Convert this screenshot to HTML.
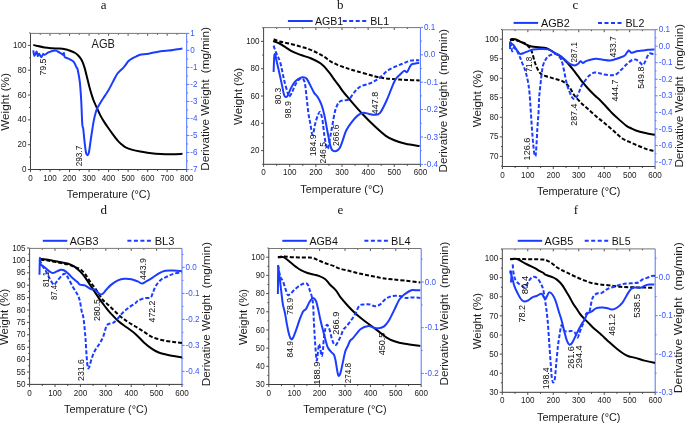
<!DOCTYPE html><html><head><meta charset="utf-8"><style>html,body{margin:0;padding:0;background:#fff;}svg{display:block;will-change:transform;}</style></head><body>
<svg width="685" height="425" viewBox="0 0 685 425">
<rect width="685" height="425" fill="#fff"/>
<line x1="30.5" y1="169.5" x2="30.5" y2="172.1" stroke="#3a3a3a" stroke-width="0.9"/>
<text transform="translate(30.5 180.6) scale(0.86 1)" font-family='"Liberation Sans", sans-serif' font-size="9.4" fill="#222" text-anchor="middle" xml:space="preserve">0</text>
<line x1="40.26" y1="169.5" x2="40.26" y2="171.1" stroke="#3a3a3a" stroke-width="0.9"/>
<line x1="40.26" y1="33.4" x2="40.26" y2="34.8" stroke="#3a3a3a" stroke-width="0.9"/>
<line x1="50.02" y1="169.5" x2="50.02" y2="172.1" stroke="#3a3a3a" stroke-width="0.9"/>
<line x1="50.02" y1="33.4" x2="50.02" y2="35.8" stroke="#3a3a3a" stroke-width="0.9"/>
<text transform="translate(50.02 180.6) scale(0.86 1)" font-family='"Liberation Sans", sans-serif' font-size="9.4" fill="#222" text-anchor="middle" xml:space="preserve">100</text>
<line x1="59.79" y1="169.5" x2="59.79" y2="171.1" stroke="#3a3a3a" stroke-width="0.9"/>
<line x1="59.79" y1="33.4" x2="59.79" y2="34.8" stroke="#3a3a3a" stroke-width="0.9"/>
<line x1="69.55" y1="169.5" x2="69.55" y2="172.1" stroke="#3a3a3a" stroke-width="0.9"/>
<line x1="69.55" y1="33.4" x2="69.55" y2="35.8" stroke="#3a3a3a" stroke-width="0.9"/>
<text transform="translate(69.55 180.6) scale(0.86 1)" font-family='"Liberation Sans", sans-serif' font-size="9.4" fill="#222" text-anchor="middle" xml:space="preserve">200</text>
<line x1="79.31" y1="169.5" x2="79.31" y2="171.1" stroke="#3a3a3a" stroke-width="0.9"/>
<line x1="79.31" y1="33.4" x2="79.31" y2="34.8" stroke="#3a3a3a" stroke-width="0.9"/>
<line x1="89.08" y1="169.5" x2="89.08" y2="172.1" stroke="#3a3a3a" stroke-width="0.9"/>
<line x1="89.08" y1="33.4" x2="89.08" y2="35.8" stroke="#3a3a3a" stroke-width="0.9"/>
<text transform="translate(89.08 180.6) scale(0.86 1)" font-family='"Liberation Sans", sans-serif' font-size="9.4" fill="#222" text-anchor="middle" xml:space="preserve">300</text>
<line x1="98.84" y1="169.5" x2="98.84" y2="171.1" stroke="#3a3a3a" stroke-width="0.9"/>
<line x1="98.84" y1="33.4" x2="98.84" y2="34.8" stroke="#3a3a3a" stroke-width="0.9"/>
<line x1="108.6" y1="169.5" x2="108.6" y2="172.1" stroke="#3a3a3a" stroke-width="0.9"/>
<line x1="108.6" y1="33.4" x2="108.6" y2="35.8" stroke="#3a3a3a" stroke-width="0.9"/>
<text transform="translate(108.6 180.6) scale(0.86 1)" font-family='"Liberation Sans", sans-serif' font-size="9.4" fill="#222" text-anchor="middle" xml:space="preserve">400</text>
<line x1="118.36" y1="169.5" x2="118.36" y2="171.1" stroke="#3a3a3a" stroke-width="0.9"/>
<line x1="118.36" y1="33.4" x2="118.36" y2="34.8" stroke="#3a3a3a" stroke-width="0.9"/>
<line x1="128.12" y1="169.5" x2="128.12" y2="172.1" stroke="#3a3a3a" stroke-width="0.9"/>
<line x1="128.12" y1="33.4" x2="128.12" y2="35.8" stroke="#3a3a3a" stroke-width="0.9"/>
<text transform="translate(128.12 180.6) scale(0.86 1)" font-family='"Liberation Sans", sans-serif' font-size="9.4" fill="#222" text-anchor="middle" xml:space="preserve">500</text>
<line x1="137.89" y1="169.5" x2="137.89" y2="171.1" stroke="#3a3a3a" stroke-width="0.9"/>
<line x1="137.89" y1="33.4" x2="137.89" y2="34.8" stroke="#3a3a3a" stroke-width="0.9"/>
<line x1="147.65" y1="169.5" x2="147.65" y2="172.1" stroke="#3a3a3a" stroke-width="0.9"/>
<line x1="147.65" y1="33.4" x2="147.65" y2="35.8" stroke="#3a3a3a" stroke-width="0.9"/>
<text transform="translate(147.65 180.6) scale(0.86 1)" font-family='"Liberation Sans", sans-serif' font-size="9.4" fill="#222" text-anchor="middle" xml:space="preserve">600</text>
<line x1="157.41" y1="169.5" x2="157.41" y2="171.1" stroke="#3a3a3a" stroke-width="0.9"/>
<line x1="157.41" y1="33.4" x2="157.41" y2="34.8" stroke="#3a3a3a" stroke-width="0.9"/>
<line x1="167.17" y1="169.5" x2="167.17" y2="172.1" stroke="#3a3a3a" stroke-width="0.9"/>
<line x1="167.17" y1="33.4" x2="167.17" y2="35.8" stroke="#3a3a3a" stroke-width="0.9"/>
<text transform="translate(167.17 180.6) scale(0.86 1)" font-family='"Liberation Sans", sans-serif' font-size="9.4" fill="#222" text-anchor="middle" xml:space="preserve">700</text>
<line x1="176.94" y1="169.5" x2="176.94" y2="171.1" stroke="#3a3a3a" stroke-width="0.9"/>
<line x1="176.94" y1="33.4" x2="176.94" y2="34.8" stroke="#3a3a3a" stroke-width="0.9"/>
<line x1="186.7" y1="169.5" x2="186.7" y2="172.1" stroke="#3a3a3a" stroke-width="0.9"/>
<text transform="translate(186.7 180.6) scale(0.86 1)" font-family='"Liberation Sans", sans-serif' font-size="9.4" fill="#222" text-anchor="middle" xml:space="preserve">800</text>
<line x1="27.9" y1="169.5" x2="30.5" y2="169.5" stroke="#3a3a3a" stroke-width="0.9"/>
<text transform="translate(26.5 172.1) scale(0.86 1)" font-family='"Liberation Sans", sans-serif' font-size="9.4" fill="#222" text-anchor="end" xml:space="preserve">0</text>
<line x1="29.1" y1="157.09" x2="30.5" y2="157.09" stroke="#3a3a3a" stroke-width="0.9"/>
<line x1="27.9" y1="144.68" x2="30.5" y2="144.68" stroke="#3a3a3a" stroke-width="0.9"/>
<text transform="translate(26.5 147.28) scale(0.86 1)" font-family='"Liberation Sans", sans-serif' font-size="9.4" fill="#222" text-anchor="end" xml:space="preserve">20</text>
<line x1="29.1" y1="132.27" x2="30.5" y2="132.27" stroke="#3a3a3a" stroke-width="0.9"/>
<line x1="27.9" y1="119.86" x2="30.5" y2="119.86" stroke="#3a3a3a" stroke-width="0.9"/>
<text transform="translate(26.5 122.46) scale(0.86 1)" font-family='"Liberation Sans", sans-serif' font-size="9.4" fill="#222" text-anchor="end" xml:space="preserve">40</text>
<line x1="29.1" y1="107.45" x2="30.5" y2="107.45" stroke="#3a3a3a" stroke-width="0.9"/>
<line x1="27.9" y1="95.04" x2="30.5" y2="95.04" stroke="#3a3a3a" stroke-width="0.9"/>
<text transform="translate(26.5 97.64) scale(0.86 1)" font-family='"Liberation Sans", sans-serif' font-size="9.4" fill="#222" text-anchor="end" xml:space="preserve">60</text>
<line x1="29.1" y1="82.63" x2="30.5" y2="82.63" stroke="#3a3a3a" stroke-width="0.9"/>
<line x1="27.9" y1="70.22" x2="30.5" y2="70.22" stroke="#3a3a3a" stroke-width="0.9"/>
<text transform="translate(26.5 72.82) scale(0.86 1)" font-family='"Liberation Sans", sans-serif' font-size="9.4" fill="#222" text-anchor="end" xml:space="preserve">80</text>
<line x1="29.1" y1="57.81" x2="30.5" y2="57.81" stroke="#3a3a3a" stroke-width="0.9"/>
<line x1="27.9" y1="45.4" x2="30.5" y2="45.4" stroke="#3a3a3a" stroke-width="0.9"/>
<text transform="translate(26.5 48) scale(0.86 1)" font-family='"Liberation Sans", sans-serif' font-size="9.4" fill="#222" text-anchor="end" xml:space="preserve">100</text>
<line x1="29.1" y1="32.99" x2="30.5" y2="32.99" stroke="#3a3a3a" stroke-width="0.9"/>
<line x1="186.7" y1="169.5" x2="189.3" y2="169.5" stroke="#5070ff" stroke-width="0.9"/>
<text transform="translate(190.3 172.1) scale(0.86 1)" font-family='"Liberation Sans", sans-serif' font-size="9.4" fill="#3355ff" text-anchor="start" xml:space="preserve">-7</text>
<line x1="186.7" y1="160.99" x2="188.1" y2="160.99" stroke="#5070ff" stroke-width="0.9"/>
<line x1="186.7" y1="152.49" x2="189.3" y2="152.49" stroke="#5070ff" stroke-width="0.9"/>
<text transform="translate(190.3 155.09) scale(0.86 1)" font-family='"Liberation Sans", sans-serif' font-size="9.4" fill="#3355ff" text-anchor="start" xml:space="preserve">-6</text>
<line x1="186.7" y1="143.98" x2="188.1" y2="143.98" stroke="#5070ff" stroke-width="0.9"/>
<line x1="186.7" y1="135.47" x2="189.3" y2="135.47" stroke="#5070ff" stroke-width="0.9"/>
<text transform="translate(190.3 138.07) scale(0.86 1)" font-family='"Liberation Sans", sans-serif' font-size="9.4" fill="#3355ff" text-anchor="start" xml:space="preserve">-5</text>
<line x1="186.7" y1="126.97" x2="188.1" y2="126.97" stroke="#5070ff" stroke-width="0.9"/>
<line x1="186.7" y1="118.46" x2="189.3" y2="118.46" stroke="#5070ff" stroke-width="0.9"/>
<text transform="translate(190.3 121.06) scale(0.86 1)" font-family='"Liberation Sans", sans-serif' font-size="9.4" fill="#3355ff" text-anchor="start" xml:space="preserve">-4</text>
<line x1="186.7" y1="109.96" x2="188.1" y2="109.96" stroke="#5070ff" stroke-width="0.9"/>
<line x1="186.7" y1="101.45" x2="189.3" y2="101.45" stroke="#5070ff" stroke-width="0.9"/>
<text transform="translate(190.3 104.05) scale(0.86 1)" font-family='"Liberation Sans", sans-serif' font-size="9.4" fill="#3355ff" text-anchor="start" xml:space="preserve">-3</text>
<line x1="186.7" y1="92.94" x2="188.1" y2="92.94" stroke="#5070ff" stroke-width="0.9"/>
<line x1="186.7" y1="84.44" x2="189.3" y2="84.44" stroke="#5070ff" stroke-width="0.9"/>
<text transform="translate(190.3 87.04) scale(0.86 1)" font-family='"Liberation Sans", sans-serif' font-size="9.4" fill="#3355ff" text-anchor="start" xml:space="preserve">-2</text>
<line x1="186.7" y1="75.93" x2="188.1" y2="75.93" stroke="#5070ff" stroke-width="0.9"/>
<line x1="186.7" y1="67.42" x2="189.3" y2="67.42" stroke="#5070ff" stroke-width="0.9"/>
<text transform="translate(190.3 70.02) scale(0.86 1)" font-family='"Liberation Sans", sans-serif' font-size="9.4" fill="#3355ff" text-anchor="start" xml:space="preserve">-1</text>
<line x1="186.7" y1="58.92" x2="188.1" y2="58.92" stroke="#5070ff" stroke-width="0.9"/>
<line x1="186.7" y1="50.41" x2="189.3" y2="50.41" stroke="#5070ff" stroke-width="0.9"/>
<text transform="translate(190.3 53.01) scale(0.86 1)" font-family='"Liberation Sans", sans-serif' font-size="9.4" fill="#3355ff" text-anchor="start" xml:space="preserve">0</text>
<line x1="186.7" y1="41.91" x2="188.1" y2="41.91" stroke="#5070ff" stroke-width="0.9"/>
<line x1="186.7" y1="33.4" x2="189.3" y2="33.4" stroke="#5070ff" stroke-width="0.9"/>
<text transform="translate(190.3 36) scale(0.86 1)" font-family='"Liberation Sans", sans-serif' font-size="9.4" fill="#3355ff" text-anchor="start" xml:space="preserve">1</text>
<line x1="30.5" y1="33.4" x2="186.7" y2="33.4" stroke="#777" stroke-width="1.0"/>
<line x1="30.5" y1="169.5" x2="186.7" y2="169.5" stroke="#3a3a3a" stroke-width="1.0"/>
<line x1="30.5" y1="33.4" x2="30.5" y2="169.5" stroke="#444" stroke-width="1.0"/>
<line x1="186.7" y1="33.4" x2="186.7" y2="169.5" stroke="#5070ff" stroke-width="1.0"/>
<text transform="translate(108.6 197.9)" font-family='"Liberation Sans", sans-serif' font-size="11.5" fill="#1a1a1a" text-anchor="middle" textLength="83.5" lengthAdjust="spacingAndGlyphs" xml:space="preserve">Temperature (°C)</text>
<text transform="translate(8.8 101.95) rotate(-90)" font-family='"Liberation Sans", sans-serif' font-size="11.3" fill="#1a1a1a" text-anchor="middle" textLength="57.5" lengthAdjust="spacingAndGlyphs" xml:space="preserve">Weight (%)</text>
<text transform="translate(208.7 170.7) rotate(-90)" font-family='"Liberation Sans", sans-serif' font-size="11.3" fill="#1a1a1a" text-anchor="start" textLength="143.5" lengthAdjust="spacingAndGlyphs" xml:space="preserve">Derivative Weight  (mg/min)</text>
<text transform="translate(103.7 8.8)" font-family='"Liberation Serif", serif' font-size="13" fill="#111" text-anchor="middle" xml:space="preserve">a</text>
<path d="M33.3,44.9 C33.97,45.08 35.42,45.57 37.3,46 C39.18,46.43 42.17,47.13 44.6,47.5 C47.03,47.87 49.47,48.02 51.9,48.2 C54.33,48.38 57.02,48.42 59.2,48.6 C61.38,48.78 63.18,48.93 65,49.3 C66.82,49.67 68.38,50.18 70.1,50.8 C71.82,51.42 73.95,52.22 75.3,53 C76.65,53.78 77.37,54.67 78.2,55.5 C79.03,56.33 79.58,56.95 80.3,58 C81.02,59.05 81.77,60.12 82.5,61.8 C83.23,63.48 83.92,65.4 84.7,68.1 C85.48,70.8 86.37,74.7 87.2,78 C88.03,81.3 88.88,84.88 89.7,87.9 C90.52,90.92 91.45,94 92.1,96.1 C92.75,98.2 92.8,98.52 93.6,100.5 C94.4,102.48 95.8,105.57 96.9,108 C98,110.43 99.02,112.83 100.2,115.1 C101.38,117.37 102.73,119.57 104,121.6 C105.27,123.63 106.38,125.25 107.8,127.3 C109.22,129.35 110.88,131.73 112.5,133.9 C114.12,136.07 116,138.58 117.5,140.3 C119,142.02 120.23,143.07 121.5,144.2 C122.77,145.33 123.25,146.15 125.1,147.1 C126.95,148.05 129.78,149.12 132.6,149.9 C135.42,150.68 138.87,151.23 142,151.8 C145.13,152.37 148.27,152.93 151.4,153.3 C154.53,153.67 157.35,153.85 160.8,154 C164.25,154.15 168.48,154.23 172.1,154.2 C175.72,154.17 180.77,153.87 182.5,153.8" fill="none" stroke="#000" stroke-width="2.0" stroke-linejoin="round"/>
<path d="M33.3,50.4 C33.48,51.32 33.85,55.72 34.4,55.9 C34.95,56.08 36.05,51.5 36.6,51.5 C37.15,51.5 37.28,55.53 37.7,55.9 C38.12,56.27 38.5,53.47 39.1,53.7 C39.7,53.93 40.63,57.25 41.3,57.3 C41.97,57.35 42.55,54.42 43.1,54 C43.65,53.58 43.62,55.1 44.6,54.8 C45.58,54.5 47.3,52.93 49,52.2 C50.7,51.47 53.35,50.52 54.8,50.4 C56.25,50.28 56.6,50.95 57.7,51.5 C58.8,52.05 60.48,53.15 61.4,53.7 C62.32,54.25 62.78,54.92 63.2,54.8 C63.62,54.68 63.65,52.63 63.9,53 C64.15,53.37 64.15,56.15 64.7,57 C65.25,57.85 66.17,57.62 67.2,58.1 C68.23,58.58 69.92,59.37 70.9,59.9 C71.88,60.43 72.47,60.7 73.1,61.3 C73.73,61.9 74.08,62.38 74.7,63.5 C75.32,64.62 76.32,67.05 76.8,68 C77.28,68.95 77.1,66.88 77.6,69.2 C78.1,71.52 79.2,76.72 79.8,81.9 C80.4,87.08 80.78,93.23 81.2,100.3 C81.62,107.37 81.95,119.5 82.3,124.3 C82.65,129.1 82.9,125.95 83.3,129.1 C83.7,132.25 84.23,139.2 84.7,143.2 C85.17,147.2 85.63,151.1 86.1,153.1 C86.57,155.1 87.03,155.3 87.5,155.2 C87.97,155.1 88.35,155.12 88.9,152.5 C89.45,149.88 90.25,143.23 90.8,139.5 C91.35,135.77 91.73,133.08 92.2,130.1 C92.67,127.12 93.05,124.42 93.6,121.6 C94.15,118.78 94.87,115.47 95.5,113.2 C96.13,110.93 96.68,109.57 97.4,108 C98.12,106.43 99.02,105.13 99.8,103.8 C100.58,102.47 101.23,101.37 102.1,100 C102.97,98.63 104.02,97.08 105,95.6 C105.98,94.12 106.68,93.38 108,91.1 C109.32,88.82 111.32,84.83 112.9,81.9 C114.48,78.97 115.78,75.83 117.5,73.5 C119.22,71.17 121.95,69.22 123.2,67.9 C124.45,66.58 124.07,66.78 125,65.6 C125.93,64.42 127.53,62.03 128.8,60.8 C130.07,59.57 131.33,58.95 132.6,58.2 C133.87,57.45 134.98,56.92 136.4,56.3 C137.82,55.68 139.52,54.87 141.1,54.5 C142.68,54.13 144.47,54.28 145.9,54.1 C147.33,53.92 148.12,53.7 149.7,53.4 C151.28,53.1 153.18,52.7 155.4,52.3 C157.62,51.9 160.8,51.28 163,51 C165.2,50.72 166.72,50.8 168.6,50.6 C170.48,50.4 172.72,50.03 174.3,49.8 C175.88,49.57 176.75,49.42 178.1,49.2 C179.45,48.98 181.68,48.62 182.4,48.5" fill="none" stroke="#1b3cff" stroke-width="2.0" stroke-linejoin="round"/>
<text transform="translate(91.6 47.9)" font-family='"Liberation Sans", sans-serif' font-size="12" fill="#1a1a1a" text-anchor="start" textLength="23.3" lengthAdjust="spacingAndGlyphs" xml:space="preserve">AGB</text>
<text transform="translate(45.6 67.05) rotate(-90)" font-family='"Liberation Sans", sans-serif' font-size="8.9" fill="#111" text-anchor="middle" textLength="17.1" lengthAdjust="spacingAndGlyphs" xml:space="preserve">79.5</text>
<text transform="translate(82.3 156) rotate(-90)" font-family='"Liberation Sans", sans-serif' font-size="8.9" fill="#111" text-anchor="middle" textLength="20.6" lengthAdjust="spacingAndGlyphs" xml:space="preserve">293.7</text>
<line x1="263.6" y1="164.3" x2="263.6" y2="166.9" stroke="#3a3a3a" stroke-width="0.9"/>
<text transform="translate(263.6 175.4) scale(0.86 1)" font-family='"Liberation Sans", sans-serif' font-size="9.4" fill="#222" text-anchor="middle" xml:space="preserve">0</text>
<line x1="276.67" y1="164.3" x2="276.67" y2="165.9" stroke="#3a3a3a" stroke-width="0.9"/>
<line x1="276.67" y1="27.6" x2="276.67" y2="29" stroke="#3a3a3a" stroke-width="0.9"/>
<line x1="289.73" y1="164.3" x2="289.73" y2="166.9" stroke="#3a3a3a" stroke-width="0.9"/>
<line x1="289.73" y1="27.6" x2="289.73" y2="30" stroke="#3a3a3a" stroke-width="0.9"/>
<text transform="translate(289.73 175.4) scale(0.86 1)" font-family='"Liberation Sans", sans-serif' font-size="9.4" fill="#222" text-anchor="middle" xml:space="preserve">100</text>
<line x1="302.8" y1="164.3" x2="302.8" y2="165.9" stroke="#3a3a3a" stroke-width="0.9"/>
<line x1="302.8" y1="27.6" x2="302.8" y2="29" stroke="#3a3a3a" stroke-width="0.9"/>
<line x1="315.87" y1="164.3" x2="315.87" y2="166.9" stroke="#3a3a3a" stroke-width="0.9"/>
<line x1="315.87" y1="27.6" x2="315.87" y2="30" stroke="#3a3a3a" stroke-width="0.9"/>
<text transform="translate(315.87 175.4) scale(0.86 1)" font-family='"Liberation Sans", sans-serif' font-size="9.4" fill="#222" text-anchor="middle" xml:space="preserve">200</text>
<line x1="328.93" y1="164.3" x2="328.93" y2="165.9" stroke="#3a3a3a" stroke-width="0.9"/>
<line x1="328.93" y1="27.6" x2="328.93" y2="29" stroke="#3a3a3a" stroke-width="0.9"/>
<line x1="342" y1="164.3" x2="342" y2="166.9" stroke="#3a3a3a" stroke-width="0.9"/>
<line x1="342" y1="27.6" x2="342" y2="30" stroke="#3a3a3a" stroke-width="0.9"/>
<text transform="translate(342 175.4) scale(0.86 1)" font-family='"Liberation Sans", sans-serif' font-size="9.4" fill="#222" text-anchor="middle" xml:space="preserve">300</text>
<line x1="355.07" y1="164.3" x2="355.07" y2="165.9" stroke="#3a3a3a" stroke-width="0.9"/>
<line x1="355.07" y1="27.6" x2="355.07" y2="29" stroke="#3a3a3a" stroke-width="0.9"/>
<line x1="368.13" y1="164.3" x2="368.13" y2="166.9" stroke="#3a3a3a" stroke-width="0.9"/>
<line x1="368.13" y1="27.6" x2="368.13" y2="30" stroke="#3a3a3a" stroke-width="0.9"/>
<text transform="translate(368.13 175.4) scale(0.86 1)" font-family='"Liberation Sans", sans-serif' font-size="9.4" fill="#222" text-anchor="middle" xml:space="preserve">400</text>
<line x1="381.2" y1="164.3" x2="381.2" y2="165.9" stroke="#3a3a3a" stroke-width="0.9"/>
<line x1="381.2" y1="27.6" x2="381.2" y2="29" stroke="#3a3a3a" stroke-width="0.9"/>
<line x1="394.27" y1="164.3" x2="394.27" y2="166.9" stroke="#3a3a3a" stroke-width="0.9"/>
<line x1="394.27" y1="27.6" x2="394.27" y2="30" stroke="#3a3a3a" stroke-width="0.9"/>
<text transform="translate(394.27 175.4) scale(0.86 1)" font-family='"Liberation Sans", sans-serif' font-size="9.4" fill="#222" text-anchor="middle" xml:space="preserve">500</text>
<line x1="407.33" y1="164.3" x2="407.33" y2="165.9" stroke="#3a3a3a" stroke-width="0.9"/>
<line x1="407.33" y1="27.6" x2="407.33" y2="29" stroke="#3a3a3a" stroke-width="0.9"/>
<line x1="420.4" y1="164.3" x2="420.4" y2="166.9" stroke="#3a3a3a" stroke-width="0.9"/>
<text transform="translate(420.4 175.4) scale(0.86 1)" font-family='"Liberation Sans", sans-serif' font-size="9.4" fill="#222" text-anchor="middle" xml:space="preserve">600</text>
<line x1="262.2" y1="164.25" x2="263.6" y2="164.25" stroke="#3a3a3a" stroke-width="0.9"/>
<line x1="261" y1="150.6" x2="263.6" y2="150.6" stroke="#3a3a3a" stroke-width="0.9"/>
<text transform="translate(259.6 153.2) scale(0.86 1)" font-family='"Liberation Sans", sans-serif' font-size="9.4" fill="#222" text-anchor="end" xml:space="preserve">20</text>
<line x1="262.2" y1="136.95" x2="263.6" y2="136.95" stroke="#3a3a3a" stroke-width="0.9"/>
<line x1="261" y1="123.3" x2="263.6" y2="123.3" stroke="#3a3a3a" stroke-width="0.9"/>
<text transform="translate(259.6 125.9) scale(0.86 1)" font-family='"Liberation Sans", sans-serif' font-size="9.4" fill="#222" text-anchor="end" xml:space="preserve">40</text>
<line x1="262.2" y1="109.65" x2="263.6" y2="109.65" stroke="#3a3a3a" stroke-width="0.9"/>
<line x1="261" y1="96" x2="263.6" y2="96" stroke="#3a3a3a" stroke-width="0.9"/>
<text transform="translate(259.6 98.6) scale(0.86 1)" font-family='"Liberation Sans", sans-serif' font-size="9.4" fill="#222" text-anchor="end" xml:space="preserve">60</text>
<line x1="262.2" y1="82.35" x2="263.6" y2="82.35" stroke="#3a3a3a" stroke-width="0.9"/>
<line x1="261" y1="68.7" x2="263.6" y2="68.7" stroke="#3a3a3a" stroke-width="0.9"/>
<text transform="translate(259.6 71.3) scale(0.86 1)" font-family='"Liberation Sans", sans-serif' font-size="9.4" fill="#222" text-anchor="end" xml:space="preserve">80</text>
<line x1="262.2" y1="55.05" x2="263.6" y2="55.05" stroke="#3a3a3a" stroke-width="0.9"/>
<line x1="261" y1="41.4" x2="263.6" y2="41.4" stroke="#3a3a3a" stroke-width="0.9"/>
<text transform="translate(259.6 44) scale(0.86 1)" font-family='"Liberation Sans", sans-serif' font-size="9.4" fill="#222" text-anchor="end" xml:space="preserve">100</text>
<line x1="262.2" y1="27.75" x2="263.6" y2="27.75" stroke="#3a3a3a" stroke-width="0.9"/>
<line x1="420.4" y1="164.4" x2="423" y2="164.4" stroke="#5070ff" stroke-width="0.9"/>
<text transform="translate(424 167) scale(0.86 1)" font-family='"Liberation Sans", sans-serif' font-size="9.4" fill="#3355ff" text-anchor="start" xml:space="preserve">-0.4</text>
<line x1="420.4" y1="150.7" x2="421.8" y2="150.7" stroke="#5070ff" stroke-width="0.9"/>
<line x1="420.4" y1="137" x2="423" y2="137" stroke="#5070ff" stroke-width="0.9"/>
<text transform="translate(424 139.6) scale(0.86 1)" font-family='"Liberation Sans", sans-serif' font-size="9.4" fill="#3355ff" text-anchor="start" xml:space="preserve">-0.3</text>
<line x1="420.4" y1="123.3" x2="421.8" y2="123.3" stroke="#5070ff" stroke-width="0.9"/>
<line x1="420.4" y1="109.6" x2="423" y2="109.6" stroke="#5070ff" stroke-width="0.9"/>
<text transform="translate(424 112.2) scale(0.86 1)" font-family='"Liberation Sans", sans-serif' font-size="9.4" fill="#3355ff" text-anchor="start" xml:space="preserve">-0.2</text>
<line x1="420.4" y1="95.9" x2="421.8" y2="95.9" stroke="#5070ff" stroke-width="0.9"/>
<line x1="420.4" y1="82.2" x2="423" y2="82.2" stroke="#5070ff" stroke-width="0.9"/>
<text transform="translate(424 84.8) scale(0.86 1)" font-family='"Liberation Sans", sans-serif' font-size="9.4" fill="#3355ff" text-anchor="start" xml:space="preserve">-0.1</text>
<line x1="420.4" y1="68.5" x2="421.8" y2="68.5" stroke="#5070ff" stroke-width="0.9"/>
<line x1="420.4" y1="54.8" x2="423" y2="54.8" stroke="#5070ff" stroke-width="0.9"/>
<text transform="translate(424 57.4) scale(0.86 1)" font-family='"Liberation Sans", sans-serif' font-size="9.4" fill="#3355ff" text-anchor="start" xml:space="preserve">0.0</text>
<line x1="420.4" y1="41.1" x2="421.8" y2="41.1" stroke="#5070ff" stroke-width="0.9"/>
<line x1="420.4" y1="27.4" x2="423" y2="27.4" stroke="#5070ff" stroke-width="0.9"/>
<text transform="translate(424 30) scale(0.86 1)" font-family='"Liberation Sans", sans-serif' font-size="9.4" fill="#3355ff" text-anchor="start" xml:space="preserve">0.1</text>
<line x1="263.6" y1="27.6" x2="420.4" y2="27.6" stroke="#777" stroke-width="1.0"/>
<line x1="263.6" y1="164.3" x2="420.4" y2="164.3" stroke="#3a3a3a" stroke-width="1.0"/>
<line x1="263.6" y1="27.6" x2="263.6" y2="164.3" stroke="#444" stroke-width="1.0"/>
<line x1="420.4" y1="27.6" x2="420.4" y2="164.3" stroke="#5070ff" stroke-width="1.0"/>
<text transform="translate(342 192.7)" font-family='"Liberation Sans", sans-serif' font-size="11.5" fill="#1a1a1a" text-anchor="middle" textLength="83.5" lengthAdjust="spacingAndGlyphs" xml:space="preserve">Temperature (°C)</text>
<text transform="translate(241.9 96.45) rotate(-90)" font-family='"Liberation Sans", sans-serif' font-size="11.3" fill="#1a1a1a" text-anchor="middle" textLength="57" lengthAdjust="spacingAndGlyphs" xml:space="preserve">Weight (%)</text>
<text transform="translate(446.5 172.5) rotate(-90)" font-family='"Liberation Sans", sans-serif' font-size="11.3" fill="#1a1a1a" text-anchor="start" textLength="143.5" lengthAdjust="spacingAndGlyphs" xml:space="preserve">Derivative Weight  (mg/min)</text>
<text transform="translate(340.3 8.8)" font-family='"Liberation Serif", serif' font-size="13" fill="#111" text-anchor="middle" xml:space="preserve">b</text>
<path d="M273.7,39.3 C274.67,39.67 276.9,40.78 279.5,41.5 C282.1,42.22 285.98,42.8 289.3,43.6 C292.62,44.4 296.15,45.38 299.4,46.3 C302.65,47.22 305.98,48.08 308.8,49.1 C311.62,50.12 313.78,51.15 316.3,52.4 C318.82,53.65 321.53,55.12 323.9,56.6 C326.27,58.08 328.32,59.97 330.5,61.3 C332.68,62.63 334.65,63.57 337,64.6 C339.35,65.63 342.43,66.72 344.6,67.5 C346.77,68.28 347.83,68.63 350,69.3 C352.17,69.97 354.27,70.55 357.6,71.5 C360.93,72.45 366.63,74.07 370,75 C373.37,75.93 375.22,76.53 377.8,77.1 C380.38,77.67 382.48,78.03 385.5,78.4 C388.52,78.77 392.45,79.05 395.9,79.3 C399.35,79.55 402.25,79.7 406.2,79.9 C410.15,80.1 417.37,80.4 419.6,80.5" fill="none" stroke="#000" stroke-width="2.0" stroke-linejoin="round" stroke-dasharray="4 2"/>
<path d="M273.2,41 C274.25,41.42 277.37,42.4 279.5,43.5 C281.63,44.6 283.82,46.23 286,47.6 C288.18,48.97 290.12,50.47 292.6,51.7 C295.08,52.93 297.88,53.9 300.9,55 C303.92,56.1 307.68,57.07 310.7,58.3 C313.72,59.53 316.8,61.08 319,62.4 C321.2,63.72 322.53,64.92 323.9,66.2 C325.27,67.48 326.1,68.77 327.2,70.1 C328.3,71.43 329.4,72.73 330.5,74.2 C331.6,75.67 332.43,77.03 333.8,78.9 C335.17,80.77 337.08,83.18 338.7,85.4 C340.32,87.62 341.3,89.42 343.5,92.2 C345.7,94.98 348.62,98.33 351.9,102.1 C355.18,105.87 359.43,110.8 363.2,114.8 C366.97,118.8 370.73,122.58 374.5,126.1 C378.27,129.62 382.5,133.55 385.8,135.9 C389.1,138.25 391.02,138.88 394.3,140.2 C397.58,141.52 401.28,142.82 405.5,143.8 C409.72,144.78 417.25,145.72 419.6,146.1" fill="none" stroke="#000" stroke-width="2.0" stroke-linejoin="round"/>
<path d="M273.6,45.6 C274.05,46.87 275.18,50.37 276.3,53.2 C277.42,56.03 279.02,58.22 280.3,62.6 C281.58,66.98 282.78,74.48 284,79.5 C285.22,84.52 286.73,89.82 287.6,92.7 C288.47,95.58 288.47,96.83 289.2,96.8 C289.93,96.77 291.03,94.38 292,92.5 C292.97,90.62 293.92,87.58 295,85.5 C296.08,83.42 297.33,81.18 298.5,80 C299.67,78.82 300.97,78 302,78.4 C303.03,78.8 303.95,79.4 304.7,82.4 C305.45,85.4 305.88,91.25 306.5,96.4 C307.12,101.55 307.78,108.88 308.4,113.3 C309.02,117.72 309.58,119.45 310.2,122.9 C310.82,126.35 311.57,132.37 312.1,134 C312.63,135.63 312.85,134.55 313.4,132.7 C313.95,130.85 314.65,125.82 315.4,122.9 C316.15,119.98 317.27,116.92 317.9,115.2 C318.53,113.48 318.77,113.03 319.2,112.6 C319.63,112.17 319.95,111.3 320.5,112.6 C321.05,113.9 321.85,116.52 322.5,120.4 C323.15,124.28 323.75,131.6 324.4,135.9 C325.05,140.2 325.8,144.05 326.4,146.2 C327,148.35 327.57,149.22 328,148.8 C328.43,148.38 328.52,146.28 329,143.7 C329.48,141.12 330.27,136.77 330.9,133.3 C331.53,129.83 332.13,126.5 332.8,122.9 C333.47,119.3 334.12,114.77 334.9,111.7 C335.68,108.63 336.65,106.2 337.5,104.5 C338.35,102.8 338.92,102.2 340,101.5 C341.08,100.8 342.48,100.68 344,100.3 C345.52,99.92 347.38,100.53 349.1,99.2 C350.82,97.87 352.42,94.42 354.3,92.3 C356.18,90.18 357.97,87.93 360.4,86.5 C362.83,85.07 366.43,84.68 368.9,83.7 C371.37,82.72 373.08,81.87 375.2,80.6 C377.32,79.33 379.45,77.83 381.6,76.1 C383.75,74.37 385.72,71.82 388.1,70.2 C390.48,68.58 393.52,67.47 395.9,66.4 C398.28,65.33 400.25,64.67 402.4,63.8 C404.55,62.93 406.87,61.78 408.8,61.2 C410.73,60.62 412.27,60.45 414,60.3 C415.73,60.15 418.33,60.3 419.2,60.3" fill="none" stroke="#1b3cff" stroke-width="2.0" stroke-linejoin="round" stroke-dasharray="4 2"/>
<path d="M273.6,72 C273.77,69.02 273.97,55.35 274.6,54.1 C275.23,52.85 276.3,59.95 277.4,64.5 C278.5,69.05 280.1,76.38 281.2,81.4 C282.3,86.42 283.22,92 284,94.6 C284.78,97.2 285.27,96.85 285.9,97 C286.53,97.15 287.02,96.85 287.8,95.5 C288.58,94.15 289.5,91.08 290.6,88.9 C291.7,86.72 293.15,84.02 294.4,82.4 C295.65,80.78 296.72,80.07 298.1,79.2 C299.48,78.33 301.3,77.32 302.7,77.2 C304.1,77.08 305.25,77.18 306.5,78.5 C307.75,79.82 308.95,82.75 310.2,85.1 C311.45,87.45 312.73,90.57 314,92.6 C315.27,94.63 316.55,95.27 317.8,97.3 C319.05,99.33 320.4,101.82 321.5,104.8 C322.6,107.78 323.45,110.97 324.4,115.2 C325.35,119.43 326.23,125.23 327.2,130.2 C328.17,135.17 329.37,141.68 330.2,145 C331.03,148.32 331.43,149.07 332.2,150.1 C332.97,151.13 333.93,151.15 334.8,151.2 C335.67,151.25 336.53,151.02 337.4,150.4 C338.27,149.78 339.15,149.05 340,147.5 C340.85,145.95 341.45,143.97 342.5,141.1 C343.55,138.23 344.73,133.52 346.3,130.3 C347.87,127.08 350.02,124.25 351.9,121.8 C353.78,119.35 355.72,117.1 357.6,115.6 C359.48,114.1 361.32,113.08 363.2,112.8 C365.08,112.52 367.02,113.57 368.9,113.9 C370.78,114.23 372.63,114.98 374.5,114.8 C376.37,114.62 378.05,115.27 380.1,112.8 C382.15,110.33 385.03,103.75 386.8,100 C388.57,96.25 389.3,93.65 390.7,90.3 C392.1,86.95 393.68,82.48 395.2,79.9 C396.72,77.32 398.28,76.3 399.8,74.8 C401.32,73.3 403.12,71.33 404.3,70.9 C405.48,70.47 406.15,72.53 406.9,72.2 C407.65,71.87 408.05,70.2 408.8,68.9 C409.55,67.6 410.32,65.3 411.4,64.4 C412.48,63.5 414,63.75 415.3,63.5 C416.6,63.25 418.55,63 419.2,62.9" fill="none" stroke="#1b3cff" stroke-width="2.0" stroke-linejoin="round"/>
<line x1="287.9" y1="21" x2="312.7" y2="21" stroke="#1b3cff" stroke-width="2.0"/>
<text transform="translate(314.9 24.9)" font-family='"Liberation Sans", sans-serif' font-size="10.9" fill="#111" text-anchor="start" textLength="28.3" lengthAdjust="spacingAndGlyphs" xml:space="preserve">AGB1</text>
<line x1="342.7" y1="21" x2="368.4" y2="21" stroke="#1b3cff" stroke-width="2.0" stroke-dasharray="4 2.5"/>
<text transform="translate(370.2 24.9)" font-family='"Liberation Sans", sans-serif' font-size="10.9" fill="#111" text-anchor="start" textLength="18.9" lengthAdjust="spacingAndGlyphs" xml:space="preserve">BL1</text>
<text transform="translate(280.6 96) rotate(-90)" font-family='"Liberation Sans", sans-serif' font-size="8.9" fill="#111" text-anchor="middle" textLength="16.6" lengthAdjust="spacingAndGlyphs" xml:space="preserve">80.3</text>
<text transform="translate(291 109.65) rotate(-90)" font-family='"Liberation Sans", sans-serif' font-size="8.9" fill="#111" text-anchor="middle" textLength="17.5" lengthAdjust="spacingAndGlyphs" xml:space="preserve">98.9</text>
<text transform="translate(316 145.3) rotate(-90)" font-family='"Liberation Sans", sans-serif' font-size="8.9" fill="#111" text-anchor="middle" textLength="22" lengthAdjust="spacingAndGlyphs" xml:space="preserve">184.9</text>
<text transform="translate(326.3 152.75) rotate(-90)" font-family='"Liberation Sans", sans-serif' font-size="8.9" fill="#111" text-anchor="middle" textLength="21.3" lengthAdjust="spacingAndGlyphs" xml:space="preserve">246.5</text>
<text transform="translate(338.6 135.25) rotate(-90)" font-family='"Liberation Sans", sans-serif' font-size="8.9" fill="#111" text-anchor="middle" textLength="21.3" lengthAdjust="spacingAndGlyphs" xml:space="preserve">266.6</text>
<text transform="translate(378.3 103.05) rotate(-90)" font-family='"Liberation Sans", sans-serif' font-size="8.9" fill="#111" text-anchor="middle" textLength="22.3" lengthAdjust="spacingAndGlyphs" xml:space="preserve">447.8</text>
<line x1="502.4" y1="166.5" x2="502.4" y2="169.1" stroke="#3a3a3a" stroke-width="0.9"/>
<text transform="translate(502.4 177.6) scale(0.86 1)" font-family='"Liberation Sans", sans-serif' font-size="9.4" fill="#222" text-anchor="middle" xml:space="preserve">0</text>
<line x1="515.12" y1="166.5" x2="515.12" y2="168.1" stroke="#3a3a3a" stroke-width="0.9"/>
<line x1="515.12" y1="29.8" x2="515.12" y2="31.2" stroke="#3a3a3a" stroke-width="0.9"/>
<line x1="527.85" y1="166.5" x2="527.85" y2="169.1" stroke="#3a3a3a" stroke-width="0.9"/>
<line x1="527.85" y1="29.8" x2="527.85" y2="32.2" stroke="#3a3a3a" stroke-width="0.9"/>
<text transform="translate(527.85 177.6) scale(0.86 1)" font-family='"Liberation Sans", sans-serif' font-size="9.4" fill="#222" text-anchor="middle" xml:space="preserve">100</text>
<line x1="540.58" y1="166.5" x2="540.58" y2="168.1" stroke="#3a3a3a" stroke-width="0.9"/>
<line x1="540.58" y1="29.8" x2="540.58" y2="31.2" stroke="#3a3a3a" stroke-width="0.9"/>
<line x1="553.3" y1="166.5" x2="553.3" y2="169.1" stroke="#3a3a3a" stroke-width="0.9"/>
<line x1="553.3" y1="29.8" x2="553.3" y2="32.2" stroke="#3a3a3a" stroke-width="0.9"/>
<text transform="translate(553.3 177.6) scale(0.86 1)" font-family='"Liberation Sans", sans-serif' font-size="9.4" fill="#222" text-anchor="middle" xml:space="preserve">200</text>
<line x1="566.02" y1="166.5" x2="566.02" y2="168.1" stroke="#3a3a3a" stroke-width="0.9"/>
<line x1="566.02" y1="29.8" x2="566.02" y2="31.2" stroke="#3a3a3a" stroke-width="0.9"/>
<line x1="578.75" y1="166.5" x2="578.75" y2="169.1" stroke="#3a3a3a" stroke-width="0.9"/>
<line x1="578.75" y1="29.8" x2="578.75" y2="32.2" stroke="#3a3a3a" stroke-width="0.9"/>
<text transform="translate(578.75 177.6) scale(0.86 1)" font-family='"Liberation Sans", sans-serif' font-size="9.4" fill="#222" text-anchor="middle" xml:space="preserve">300</text>
<line x1="591.48" y1="166.5" x2="591.48" y2="168.1" stroke="#3a3a3a" stroke-width="0.9"/>
<line x1="591.48" y1="29.8" x2="591.48" y2="31.2" stroke="#3a3a3a" stroke-width="0.9"/>
<line x1="604.2" y1="166.5" x2="604.2" y2="169.1" stroke="#3a3a3a" stroke-width="0.9"/>
<line x1="604.2" y1="29.8" x2="604.2" y2="32.2" stroke="#3a3a3a" stroke-width="0.9"/>
<text transform="translate(604.2 177.6) scale(0.86 1)" font-family='"Liberation Sans", sans-serif' font-size="9.4" fill="#222" text-anchor="middle" xml:space="preserve">400</text>
<line x1="616.92" y1="166.5" x2="616.92" y2="168.1" stroke="#3a3a3a" stroke-width="0.9"/>
<line x1="616.92" y1="29.8" x2="616.92" y2="31.2" stroke="#3a3a3a" stroke-width="0.9"/>
<line x1="629.65" y1="166.5" x2="629.65" y2="169.1" stroke="#3a3a3a" stroke-width="0.9"/>
<line x1="629.65" y1="29.8" x2="629.65" y2="32.2" stroke="#3a3a3a" stroke-width="0.9"/>
<text transform="translate(629.65 177.6) scale(0.86 1)" font-family='"Liberation Sans", sans-serif' font-size="9.4" fill="#222" text-anchor="middle" xml:space="preserve">500</text>
<line x1="642.38" y1="166.5" x2="642.38" y2="168.1" stroke="#3a3a3a" stroke-width="0.9"/>
<line x1="642.38" y1="29.8" x2="642.38" y2="31.2" stroke="#3a3a3a" stroke-width="0.9"/>
<line x1="655.1" y1="166.5" x2="655.1" y2="169.1" stroke="#3a3a3a" stroke-width="0.9"/>
<text transform="translate(655.1 177.6) scale(0.86 1)" font-family='"Liberation Sans", sans-serif' font-size="9.4" fill="#222" text-anchor="middle" xml:space="preserve">600</text>
<line x1="501" y1="166.17" x2="502.4" y2="166.17" stroke="#3a3a3a" stroke-width="0.9"/>
<line x1="499.8" y1="156.4" x2="502.4" y2="156.4" stroke="#3a3a3a" stroke-width="0.9"/>
<text transform="translate(498.4 159) scale(0.86 1)" font-family='"Liberation Sans", sans-serif' font-size="9.4" fill="#222" text-anchor="end" xml:space="preserve">70</text>
<line x1="501" y1="146.63" x2="502.4" y2="146.63" stroke="#3a3a3a" stroke-width="0.9"/>
<line x1="499.8" y1="136.87" x2="502.4" y2="136.87" stroke="#3a3a3a" stroke-width="0.9"/>
<text transform="translate(498.4 139.47) scale(0.86 1)" font-family='"Liberation Sans", sans-serif' font-size="9.4" fill="#222" text-anchor="end" xml:space="preserve">75</text>
<line x1="501" y1="127.1" x2="502.4" y2="127.1" stroke="#3a3a3a" stroke-width="0.9"/>
<line x1="499.8" y1="117.33" x2="502.4" y2="117.33" stroke="#3a3a3a" stroke-width="0.9"/>
<text transform="translate(498.4 119.93) scale(0.86 1)" font-family='"Liberation Sans", sans-serif' font-size="9.4" fill="#222" text-anchor="end" xml:space="preserve">80</text>
<line x1="501" y1="107.57" x2="502.4" y2="107.57" stroke="#3a3a3a" stroke-width="0.9"/>
<line x1="499.8" y1="97.8" x2="502.4" y2="97.8" stroke="#3a3a3a" stroke-width="0.9"/>
<text transform="translate(498.4 100.4) scale(0.86 1)" font-family='"Liberation Sans", sans-serif' font-size="9.4" fill="#222" text-anchor="end" xml:space="preserve">85</text>
<line x1="501" y1="88.03" x2="502.4" y2="88.03" stroke="#3a3a3a" stroke-width="0.9"/>
<line x1="499.8" y1="78.27" x2="502.4" y2="78.27" stroke="#3a3a3a" stroke-width="0.9"/>
<text transform="translate(498.4 80.87) scale(0.86 1)" font-family='"Liberation Sans", sans-serif' font-size="9.4" fill="#222" text-anchor="end" xml:space="preserve">90</text>
<line x1="501" y1="68.5" x2="502.4" y2="68.5" stroke="#3a3a3a" stroke-width="0.9"/>
<line x1="499.8" y1="58.73" x2="502.4" y2="58.73" stroke="#3a3a3a" stroke-width="0.9"/>
<text transform="translate(498.4 61.33) scale(0.86 1)" font-family='"Liberation Sans", sans-serif' font-size="9.4" fill="#222" text-anchor="end" xml:space="preserve">95</text>
<line x1="501" y1="48.97" x2="502.4" y2="48.97" stroke="#3a3a3a" stroke-width="0.9"/>
<line x1="499.8" y1="39.2" x2="502.4" y2="39.2" stroke="#3a3a3a" stroke-width="0.9"/>
<text transform="translate(498.4 41.8) scale(0.86 1)" font-family='"Liberation Sans", sans-serif' font-size="9.4" fill="#222" text-anchor="end" xml:space="preserve">100</text>
<line x1="501" y1="29.43" x2="502.4" y2="29.43" stroke="#3a3a3a" stroke-width="0.9"/>
<line x1="655.1" y1="162" x2="657.7" y2="162" stroke="#5070ff" stroke-width="0.9"/>
<text transform="translate(658.7 164.6) scale(0.86 1)" font-family='"Liberation Sans", sans-serif' font-size="9.4" fill="#3355ff" text-anchor="start" xml:space="preserve">-0.7</text>
<line x1="655.1" y1="153.73" x2="656.5" y2="153.73" stroke="#5070ff" stroke-width="0.9"/>
<line x1="655.1" y1="145.45" x2="657.7" y2="145.45" stroke="#5070ff" stroke-width="0.9"/>
<text transform="translate(658.7 148.05) scale(0.86 1)" font-family='"Liberation Sans", sans-serif' font-size="9.4" fill="#3355ff" text-anchor="start" xml:space="preserve">-0.6</text>
<line x1="655.1" y1="137.18" x2="656.5" y2="137.18" stroke="#5070ff" stroke-width="0.9"/>
<line x1="655.1" y1="128.9" x2="657.7" y2="128.9" stroke="#5070ff" stroke-width="0.9"/>
<text transform="translate(658.7 131.5) scale(0.86 1)" font-family='"Liberation Sans", sans-serif' font-size="9.4" fill="#3355ff" text-anchor="start" xml:space="preserve">-0.5</text>
<line x1="655.1" y1="120.63" x2="656.5" y2="120.63" stroke="#5070ff" stroke-width="0.9"/>
<line x1="655.1" y1="112.35" x2="657.7" y2="112.35" stroke="#5070ff" stroke-width="0.9"/>
<text transform="translate(658.7 114.95) scale(0.86 1)" font-family='"Liberation Sans", sans-serif' font-size="9.4" fill="#3355ff" text-anchor="start" xml:space="preserve">-0.4</text>
<line x1="655.1" y1="104.08" x2="656.5" y2="104.08" stroke="#5070ff" stroke-width="0.9"/>
<line x1="655.1" y1="95.8" x2="657.7" y2="95.8" stroke="#5070ff" stroke-width="0.9"/>
<text transform="translate(658.7 98.4) scale(0.86 1)" font-family='"Liberation Sans", sans-serif' font-size="9.4" fill="#3355ff" text-anchor="start" xml:space="preserve">-0.3</text>
<line x1="655.1" y1="87.53" x2="656.5" y2="87.53" stroke="#5070ff" stroke-width="0.9"/>
<line x1="655.1" y1="79.25" x2="657.7" y2="79.25" stroke="#5070ff" stroke-width="0.9"/>
<text transform="translate(658.7 81.85) scale(0.86 1)" font-family='"Liberation Sans", sans-serif' font-size="9.4" fill="#3355ff" text-anchor="start" xml:space="preserve">-0.2</text>
<line x1="655.1" y1="70.98" x2="656.5" y2="70.98" stroke="#5070ff" stroke-width="0.9"/>
<line x1="655.1" y1="62.7" x2="657.7" y2="62.7" stroke="#5070ff" stroke-width="0.9"/>
<text transform="translate(658.7 65.3) scale(0.86 1)" font-family='"Liberation Sans", sans-serif' font-size="9.4" fill="#3355ff" text-anchor="start" xml:space="preserve">-0.1</text>
<line x1="655.1" y1="54.43" x2="656.5" y2="54.43" stroke="#5070ff" stroke-width="0.9"/>
<line x1="655.1" y1="46.15" x2="657.7" y2="46.15" stroke="#5070ff" stroke-width="0.9"/>
<text transform="translate(658.7 48.75) scale(0.86 1)" font-family='"Liberation Sans", sans-serif' font-size="9.4" fill="#3355ff" text-anchor="start" xml:space="preserve">0.0</text>
<line x1="655.1" y1="37.88" x2="656.5" y2="37.88" stroke="#5070ff" stroke-width="0.9"/>
<line x1="655.1" y1="29.6" x2="657.7" y2="29.6" stroke="#5070ff" stroke-width="0.9"/>
<text transform="translate(658.7 32.2) scale(0.86 1)" font-family='"Liberation Sans", sans-serif' font-size="9.4" fill="#3355ff" text-anchor="start" xml:space="preserve">0.1</text>
<line x1="502.4" y1="29.8" x2="655.1" y2="29.8" stroke="#777" stroke-width="1.0"/>
<line x1="502.4" y1="166.5" x2="655.1" y2="166.5" stroke="#3a3a3a" stroke-width="1.0"/>
<line x1="502.4" y1="29.8" x2="502.4" y2="166.5" stroke="#444" stroke-width="1.0"/>
<line x1="655.1" y1="29.8" x2="655.1" y2="166.5" stroke="#5070ff" stroke-width="1.0"/>
<text transform="translate(578.75 194.9)" font-family='"Liberation Sans", sans-serif' font-size="11.5" fill="#1a1a1a" text-anchor="middle" textLength="83.5" lengthAdjust="spacingAndGlyphs" xml:space="preserve">Temperature (°C)</text>
<text transform="translate(480.7 98.65) rotate(-90)" font-family='"Liberation Sans", sans-serif' font-size="11.3" fill="#1a1a1a" text-anchor="middle" textLength="57.4" lengthAdjust="spacingAndGlyphs" xml:space="preserve">Weight (%)</text>
<text transform="translate(682.9 167.6) rotate(-90)" font-family='"Liberation Sans", sans-serif' font-size="11.3" fill="#1a1a1a" text-anchor="start" textLength="143.6" lengthAdjust="spacingAndGlyphs" xml:space="preserve">Derivative Weight  (mg/min)</text>
<text transform="translate(575.5 8.8)" font-family='"Liberation Serif", serif' font-size="13" fill="#111" text-anchor="middle" xml:space="preserve">c</text>
<path d="M510.2,39.9 C511.3,40 514.5,39.98 516.8,40.5 C519.1,41.02 522.05,42 524,43 C525.95,44 527.22,45.1 528.5,46.5 C529.78,47.9 530.62,48.68 531.7,51.4 C532.78,54.12 533.98,59.8 535,62.8 C536.02,65.8 536.78,67.52 537.8,69.4 C538.82,71.28 539.83,73 541.1,74.1 C542.37,75.2 543.9,75.45 545.4,76 C546.9,76.55 548.53,76.93 550.1,77.4 C551.67,77.87 553.23,78.33 554.8,78.8 C556.37,79.27 558.1,79.73 559.5,80.2 C560.9,80.67 561.95,80.88 563.2,81.6 C564.45,82.32 565.73,83.23 567,84.5 C568.27,85.77 569.55,87.37 570.8,89.2 C572.05,91.03 572.73,93.17 574.5,95.5 C576.27,97.83 579.15,100.95 581.4,103.2 C583.65,105.45 585.53,106.8 588,109 C590.47,111.2 593.47,114.07 596.2,116.4 C598.93,118.73 601.52,120.6 604.4,123 C607.28,125.4 610.58,128.27 613.5,130.8 C616.42,133.33 619.08,136.27 621.9,138.2 C624.72,140.13 627.58,141.1 630.4,142.4 C633.22,143.7 635.98,144.83 638.8,146 C641.62,147.17 644.82,148.58 647.3,149.4 C649.78,150.22 652.63,150.65 653.7,150.9" fill="none" stroke="#000" stroke-width="2.0" stroke-linejoin="round" stroke-dasharray="4 2"/>
<path d="M510,40.2 C510.33,40 511.17,39.15 512,39 C512.83,38.85 514,39.05 515,39.3 C516,39.55 517,40.05 518,40.5 C519,40.95 520,41.52 521,42 C522,42.48 523.05,42.93 524,43.4 C524.95,43.87 525.42,44.28 526.7,44.8 C527.98,45.32 529.77,46.08 531.7,46.5 C533.63,46.92 535.83,47.03 538.3,47.3 C540.77,47.57 543.72,47.13 546.5,48.1 C549.28,49.07 552.48,51.58 555,53.1 C557.52,54.62 559.4,55.42 561.6,57.2 C563.8,58.98 566.28,61.73 568.2,63.8 C570.12,65.87 571.45,67.53 573.1,69.6 C574.75,71.67 576.45,74.02 578.1,76.2 C579.75,78.38 581.35,80.65 583,82.7 C584.65,84.75 586.07,86.4 588,88.5 C589.93,90.6 592.5,93.27 594.6,95.3 C596.7,97.33 598.43,98.55 600.6,100.7 C602.77,102.85 605.7,106.15 607.6,108.2 C609.5,110.25 610.42,111.4 612,113 C613.58,114.6 614.68,115.65 617.1,117.8 C619.52,119.95 624.27,124.2 626.5,125.9 C628.73,127.6 628.93,127.23 630.5,128 C632.07,128.77 633.42,129.67 635.9,130.5 C638.38,131.33 642.25,132.28 645.4,133 C648.55,133.72 653.23,134.5 654.8,134.8" fill="none" stroke="#000" stroke-width="2.0" stroke-linejoin="round"/>
<path d="M510.1,42.4 C510.28,43 510.85,44.52 511.2,46 C511.55,47.48 511.77,51.05 512.2,51.3 C512.63,51.55 513.25,47.88 513.8,47.5 C514.35,47.12 514.9,48.33 515.5,49 C516.1,49.67 516.83,50.48 517.4,51.5 C517.97,52.52 518.42,54.02 518.9,55.1 C519.38,56.18 519.78,56.77 520.3,58 C520.82,59.23 521.3,60.75 522,62.5 C522.7,64.25 523.75,66.42 524.5,68.5 C525.25,70.58 525.88,72.58 526.5,75 C527.12,77.42 527.7,80 528.2,83 C528.7,86 529.07,88.25 529.5,93 C529.93,97.75 530.3,104.3 530.8,111.5 C531.3,118.7 531.95,129.47 532.5,136.2 C533.05,142.93 533.6,148.6 534.1,151.9 C534.6,155.2 535.13,156.7 535.5,156 C535.87,155.3 535.98,152.37 536.3,147.7 C536.62,143.03 537.02,134.03 537.4,128 C537.78,121.97 538.3,116.72 538.6,111.5 C538.9,106.28 538.87,101.37 539.2,96.7 C539.53,92.03 540.2,87.27 540.6,83.5 C541,79.73 541.2,77.08 541.6,74.1 C542,71.12 542.37,67.95 543,65.6 C543.63,63.25 544.57,61.52 545.4,60 C546.23,58.48 547,57.38 548,56.5 C549,55.62 550.13,55.13 551.4,54.7 C552.67,54.27 554.35,53.62 555.6,53.9 C556.85,54.18 557.93,55.38 558.9,56.4 C559.87,57.42 560.68,58.3 561.4,60 C562.12,61.7 562.58,63.93 563.2,66.6 C563.82,69.27 564.47,73.02 565.1,76 C565.73,78.98 566.37,82.15 567,84.5 C567.63,86.85 568.12,88.07 568.9,90.1 C569.68,92.13 570.85,95.2 571.7,96.7 C572.55,98.2 573.22,98.98 574,99.1 C574.78,99.22 575.58,98.5 576.4,97.4 C577.22,96.3 578.07,94.4 578.9,92.5 C579.73,90.6 580.43,87.9 581.4,86 C582.37,84.1 583.33,82.88 584.7,81.1 C586.07,79.32 587.95,76.73 589.6,75.3 C591.25,73.87 592.95,72.85 594.6,72.5 C596.25,72.15 597.87,72.87 599.5,73.2 C601.13,73.53 602.38,74.15 604.4,74.5 C606.42,74.85 609.58,75.37 611.6,75.3 C613.62,75.23 614.85,75.07 616.5,74.1 C618.15,73.13 619.85,71.08 621.5,69.5 C623.15,67.92 624.77,66.1 626.4,64.6 C628.03,63.1 629.78,61.33 631.3,60.5 C632.82,59.67 634.25,59.47 635.5,59.6 C636.75,59.73 637.85,60.6 638.8,61.3 C639.75,62 640.47,63.2 641.2,63.8 C641.93,64.4 642.52,65.32 643.2,64.9 C643.88,64.48 644.53,62.87 645.3,61.3 C646.07,59.73 647.1,56.82 647.8,55.5 C648.5,54.18 648.67,53.67 649.5,53.4 C650.33,53.13 651.85,53.73 652.8,53.9 C653.75,54.07 654.8,54.32 655.2,54.4" fill="none" stroke="#1b3cff" stroke-width="2.0" stroke-linejoin="round" stroke-dasharray="4 2"/>
<path d="M510.1,49 C510.1,47.9 509.87,43.32 510.1,42.4 C510.33,41.48 510.88,43.02 511.5,43.5 C512.12,43.98 513.17,44.57 513.8,45.3 C514.43,46.03 514.7,46.95 515.3,47.9 C515.9,48.85 516.7,50.05 517.4,51 C518.1,51.95 518.82,53.13 519.5,53.6 C520.18,54.07 520.75,53.92 521.5,53.8 C522.25,53.68 522.85,53.35 524,52.9 C525.15,52.45 526.9,51.67 528.4,51.1 C529.9,50.53 531.08,49.85 533,49.5 C534.92,49.15 537.37,49.02 539.9,49 C542.43,48.98 545.68,48.72 548.2,49.4 C550.72,50.08 553.05,52.08 555,53.1 C556.95,54.12 558.25,54.4 559.9,55.5 C561.55,56.6 563.25,58.32 564.9,59.7 C566.55,61.08 568.15,62.85 569.8,63.8 C571.45,64.75 573.42,65.4 574.8,65.4 C576.18,65.4 577.15,64.48 578.1,63.8 C579.05,63.12 579.68,61.43 580.5,61.3 C581.32,61.17 582.17,63 583,63 C583.83,63 584.4,61.8 585.5,61.3 C586.6,60.8 587.82,60.42 589.6,60 C591.38,59.58 594,58.85 596.2,58.8 C598.4,58.75 600.52,59.42 602.8,59.7 C605.08,59.98 607.88,60.57 609.9,60.5 C611.92,60.43 613.25,59.77 614.9,59.3 C616.55,58.83 618.15,58.33 619.8,57.7 C621.45,57.07 623.57,56.42 624.8,55.5 C626.03,54.58 626.52,53.02 627.2,52.2 C627.88,51.38 628.22,50.52 628.9,50.6 C629.58,50.68 630.48,52.43 631.3,52.7 C632.12,52.97 632.7,52.47 633.8,52.2 C634.9,51.93 636.38,51.37 637.9,51.1 C639.42,50.83 641.25,50.82 642.9,50.6 C644.55,50.38 645.88,50 647.8,49.8 C649.72,49.6 653.3,49.47 654.4,49.4" fill="none" stroke="#1b3cff" stroke-width="2.0" stroke-linejoin="round"/>
<line x1="513.6" y1="22.9" x2="538.1" y2="22.9" stroke="#1b3cff" stroke-width="2.0"/>
<text transform="translate(540.9 26.8)" font-family='"Liberation Sans", sans-serif' font-size="10.9" fill="#111" text-anchor="start" textLength="29" lengthAdjust="spacingAndGlyphs" xml:space="preserve">AGB2</text>
<line x1="598" y1="22.9" x2="623.5" y2="22.9" stroke="#1b3cff" stroke-width="2.0" stroke-dasharray="4 2.5"/>
<text transform="translate(625.5 26.8)" font-family='"Liberation Sans", sans-serif' font-size="10.9" fill="#111" text-anchor="start" textLength="19" lengthAdjust="spacingAndGlyphs" xml:space="preserve">BL2</text>
<text transform="translate(531.6 64.6) rotate(-90)" font-family='"Liberation Sans", sans-serif' font-size="8.9" fill="#111" text-anchor="middle" textLength="15.4" lengthAdjust="spacingAndGlyphs" xml:space="preserve">71.8</text>
<text transform="translate(529.6 149) rotate(-90)" font-family='"Liberation Sans", sans-serif' font-size="8.9" fill="#111" text-anchor="middle" textLength="22.8" lengthAdjust="spacingAndGlyphs" xml:space="preserve">126.6</text>
<text transform="translate(576.7 52.25) rotate(-90)" font-family='"Liberation Sans", sans-serif' font-size="8.9" fill="#111" text-anchor="middle" textLength="20.3" lengthAdjust="spacingAndGlyphs" xml:space="preserve">287.1</text>
<text transform="translate(576.7 114.7) rotate(-90)" font-family='"Liberation Sans", sans-serif' font-size="8.9" fill="#111" text-anchor="middle" textLength="22" lengthAdjust="spacingAndGlyphs" xml:space="preserve">287.4</text>
<text transform="translate(616.1 46.9) rotate(-90)" font-family='"Liberation Sans", sans-serif' font-size="8.9" fill="#111" text-anchor="middle" textLength="21.2" lengthAdjust="spacingAndGlyphs" xml:space="preserve">433.7</text>
<text transform="translate(617.7 90.6) rotate(-90)" font-family='"Liberation Sans", sans-serif' font-size="8.9" fill="#111" text-anchor="middle" textLength="21.8" lengthAdjust="spacingAndGlyphs" xml:space="preserve">444.7</text>
<text transform="translate(643.6 77.75) rotate(-90)" font-family='"Liberation Sans", sans-serif' font-size="8.9" fill="#111" text-anchor="middle" textLength="22.1" lengthAdjust="spacingAndGlyphs" xml:space="preserve">549.8</text>
<line x1="29.6" y1="384.4" x2="29.6" y2="387" stroke="#3a3a3a" stroke-width="0.9"/>
<text transform="translate(29.6 395.5) scale(0.86 1)" font-family='"Liberation Sans", sans-serif' font-size="9.4" fill="#222" text-anchor="middle" xml:space="preserve">0</text>
<line x1="42.3" y1="384.4" x2="42.3" y2="386" stroke="#3a3a3a" stroke-width="0.9"/>
<line x1="42.3" y1="248.4" x2="42.3" y2="249.8" stroke="#3a3a3a" stroke-width="0.9"/>
<line x1="55" y1="384.4" x2="55" y2="387" stroke="#3a3a3a" stroke-width="0.9"/>
<line x1="55" y1="248.4" x2="55" y2="250.8" stroke="#3a3a3a" stroke-width="0.9"/>
<text transform="translate(55 395.5) scale(0.86 1)" font-family='"Liberation Sans", sans-serif' font-size="9.4" fill="#222" text-anchor="middle" xml:space="preserve">100</text>
<line x1="67.7" y1="384.4" x2="67.7" y2="386" stroke="#3a3a3a" stroke-width="0.9"/>
<line x1="67.7" y1="248.4" x2="67.7" y2="249.8" stroke="#3a3a3a" stroke-width="0.9"/>
<line x1="80.4" y1="384.4" x2="80.4" y2="387" stroke="#3a3a3a" stroke-width="0.9"/>
<line x1="80.4" y1="248.4" x2="80.4" y2="250.8" stroke="#3a3a3a" stroke-width="0.9"/>
<text transform="translate(80.4 395.5) scale(0.86 1)" font-family='"Liberation Sans", sans-serif' font-size="9.4" fill="#222" text-anchor="middle" xml:space="preserve">200</text>
<line x1="93.1" y1="384.4" x2="93.1" y2="386" stroke="#3a3a3a" stroke-width="0.9"/>
<line x1="93.1" y1="248.4" x2="93.1" y2="249.8" stroke="#3a3a3a" stroke-width="0.9"/>
<line x1="105.8" y1="384.4" x2="105.8" y2="387" stroke="#3a3a3a" stroke-width="0.9"/>
<line x1="105.8" y1="248.4" x2="105.8" y2="250.8" stroke="#3a3a3a" stroke-width="0.9"/>
<text transform="translate(105.8 395.5) scale(0.86 1)" font-family='"Liberation Sans", sans-serif' font-size="9.4" fill="#222" text-anchor="middle" xml:space="preserve">300</text>
<line x1="118.5" y1="384.4" x2="118.5" y2="386" stroke="#3a3a3a" stroke-width="0.9"/>
<line x1="118.5" y1="248.4" x2="118.5" y2="249.8" stroke="#3a3a3a" stroke-width="0.9"/>
<line x1="131.2" y1="384.4" x2="131.2" y2="387" stroke="#3a3a3a" stroke-width="0.9"/>
<line x1="131.2" y1="248.4" x2="131.2" y2="250.8" stroke="#3a3a3a" stroke-width="0.9"/>
<text transform="translate(131.2 395.5) scale(0.86 1)" font-family='"Liberation Sans", sans-serif' font-size="9.4" fill="#222" text-anchor="middle" xml:space="preserve">400</text>
<line x1="143.9" y1="384.4" x2="143.9" y2="386" stroke="#3a3a3a" stroke-width="0.9"/>
<line x1="143.9" y1="248.4" x2="143.9" y2="249.8" stroke="#3a3a3a" stroke-width="0.9"/>
<line x1="156.6" y1="384.4" x2="156.6" y2="387" stroke="#3a3a3a" stroke-width="0.9"/>
<line x1="156.6" y1="248.4" x2="156.6" y2="250.8" stroke="#3a3a3a" stroke-width="0.9"/>
<text transform="translate(156.6 395.5) scale(0.86 1)" font-family='"Liberation Sans", sans-serif' font-size="9.4" fill="#222" text-anchor="middle" xml:space="preserve">500</text>
<line x1="169.3" y1="384.4" x2="169.3" y2="386" stroke="#3a3a3a" stroke-width="0.9"/>
<line x1="169.3" y1="248.4" x2="169.3" y2="249.8" stroke="#3a3a3a" stroke-width="0.9"/>
<line x1="182" y1="384.4" x2="182" y2="387" stroke="#3a3a3a" stroke-width="0.9"/>
<text transform="translate(182 395.5) scale(0.86 1)" font-family='"Liberation Sans", sans-serif' font-size="9.4" fill="#222" text-anchor="middle" xml:space="preserve">600</text>
<line x1="27" y1="384.4" x2="29.6" y2="384.4" stroke="#3a3a3a" stroke-width="0.9"/>
<text transform="translate(25.6 387) scale(0.86 1)" font-family='"Liberation Sans", sans-serif' font-size="9.4" fill="#222" text-anchor="end" xml:space="preserve">50</text>
<line x1="28.2" y1="378.2" x2="29.6" y2="378.2" stroke="#3a3a3a" stroke-width="0.9"/>
<line x1="27" y1="372" x2="29.6" y2="372" stroke="#3a3a3a" stroke-width="0.9"/>
<text transform="translate(25.6 374.6) scale(0.86 1)" font-family='"Liberation Sans", sans-serif' font-size="9.4" fill="#222" text-anchor="end" xml:space="preserve">55</text>
<line x1="28.2" y1="365.8" x2="29.6" y2="365.8" stroke="#3a3a3a" stroke-width="0.9"/>
<line x1="27" y1="359.6" x2="29.6" y2="359.6" stroke="#3a3a3a" stroke-width="0.9"/>
<text transform="translate(25.6 362.2) scale(0.86 1)" font-family='"Liberation Sans", sans-serif' font-size="9.4" fill="#222" text-anchor="end" xml:space="preserve">60</text>
<line x1="28.2" y1="353.4" x2="29.6" y2="353.4" stroke="#3a3a3a" stroke-width="0.9"/>
<line x1="27" y1="347.2" x2="29.6" y2="347.2" stroke="#3a3a3a" stroke-width="0.9"/>
<text transform="translate(25.6 349.8) scale(0.86 1)" font-family='"Liberation Sans", sans-serif' font-size="9.4" fill="#222" text-anchor="end" xml:space="preserve">65</text>
<line x1="28.2" y1="341" x2="29.6" y2="341" stroke="#3a3a3a" stroke-width="0.9"/>
<line x1="27" y1="334.8" x2="29.6" y2="334.8" stroke="#3a3a3a" stroke-width="0.9"/>
<text transform="translate(25.6 337.4) scale(0.86 1)" font-family='"Liberation Sans", sans-serif' font-size="9.4" fill="#222" text-anchor="end" xml:space="preserve">70</text>
<line x1="28.2" y1="328.6" x2="29.6" y2="328.6" stroke="#3a3a3a" stroke-width="0.9"/>
<line x1="27" y1="322.4" x2="29.6" y2="322.4" stroke="#3a3a3a" stroke-width="0.9"/>
<text transform="translate(25.6 325) scale(0.86 1)" font-family='"Liberation Sans", sans-serif' font-size="9.4" fill="#222" text-anchor="end" xml:space="preserve">75</text>
<line x1="28.2" y1="316.2" x2="29.6" y2="316.2" stroke="#3a3a3a" stroke-width="0.9"/>
<line x1="27" y1="310" x2="29.6" y2="310" stroke="#3a3a3a" stroke-width="0.9"/>
<text transform="translate(25.6 312.6) scale(0.86 1)" font-family='"Liberation Sans", sans-serif' font-size="9.4" fill="#222" text-anchor="end" xml:space="preserve">80</text>
<line x1="28.2" y1="303.8" x2="29.6" y2="303.8" stroke="#3a3a3a" stroke-width="0.9"/>
<line x1="27" y1="297.6" x2="29.6" y2="297.6" stroke="#3a3a3a" stroke-width="0.9"/>
<text transform="translate(25.6 300.2) scale(0.86 1)" font-family='"Liberation Sans", sans-serif' font-size="9.4" fill="#222" text-anchor="end" xml:space="preserve">85</text>
<line x1="28.2" y1="291.4" x2="29.6" y2="291.4" stroke="#3a3a3a" stroke-width="0.9"/>
<line x1="27" y1="285.2" x2="29.6" y2="285.2" stroke="#3a3a3a" stroke-width="0.9"/>
<text transform="translate(25.6 287.8) scale(0.86 1)" font-family='"Liberation Sans", sans-serif' font-size="9.4" fill="#222" text-anchor="end" xml:space="preserve">90</text>
<line x1="28.2" y1="279" x2="29.6" y2="279" stroke="#3a3a3a" stroke-width="0.9"/>
<line x1="27" y1="272.8" x2="29.6" y2="272.8" stroke="#3a3a3a" stroke-width="0.9"/>
<text transform="translate(25.6 275.4) scale(0.86 1)" font-family='"Liberation Sans", sans-serif' font-size="9.4" fill="#222" text-anchor="end" xml:space="preserve">95</text>
<line x1="28.2" y1="266.6" x2="29.6" y2="266.6" stroke="#3a3a3a" stroke-width="0.9"/>
<line x1="27" y1="260.4" x2="29.6" y2="260.4" stroke="#3a3a3a" stroke-width="0.9"/>
<text transform="translate(25.6 263) scale(0.86 1)" font-family='"Liberation Sans", sans-serif' font-size="9.4" fill="#222" text-anchor="end" xml:space="preserve">100</text>
<line x1="28.2" y1="254.2" x2="29.6" y2="254.2" stroke="#3a3a3a" stroke-width="0.9"/>
<line x1="27" y1="248" x2="29.6" y2="248" stroke="#3a3a3a" stroke-width="0.9"/>
<text transform="translate(25.6 250.6) scale(0.86 1)" font-family='"Liberation Sans", sans-serif' font-size="9.4" fill="#222" text-anchor="end" xml:space="preserve">105</text>
<line x1="182" y1="384.4" x2="183.4" y2="384.4" stroke="#5070ff" stroke-width="0.9"/>
<line x1="182" y1="371.4" x2="184.6" y2="371.4" stroke="#5070ff" stroke-width="0.9"/>
<text transform="translate(185.6 374) scale(0.86 1)" font-family='"Liberation Sans", sans-serif' font-size="9.4" fill="#3355ff" text-anchor="start" xml:space="preserve">-0.4</text>
<line x1="182" y1="358.4" x2="183.4" y2="358.4" stroke="#5070ff" stroke-width="0.9"/>
<line x1="182" y1="345.4" x2="184.6" y2="345.4" stroke="#5070ff" stroke-width="0.9"/>
<text transform="translate(185.6 348) scale(0.86 1)" font-family='"Liberation Sans", sans-serif' font-size="9.4" fill="#3355ff" text-anchor="start" xml:space="preserve">-0.3</text>
<line x1="182" y1="332.4" x2="183.4" y2="332.4" stroke="#5070ff" stroke-width="0.9"/>
<line x1="182" y1="319.4" x2="184.6" y2="319.4" stroke="#5070ff" stroke-width="0.9"/>
<text transform="translate(185.6 322) scale(0.86 1)" font-family='"Liberation Sans", sans-serif' font-size="9.4" fill="#3355ff" text-anchor="start" xml:space="preserve">-0.2</text>
<line x1="182" y1="306.4" x2="183.4" y2="306.4" stroke="#5070ff" stroke-width="0.9"/>
<line x1="182" y1="293.4" x2="184.6" y2="293.4" stroke="#5070ff" stroke-width="0.9"/>
<text transform="translate(185.6 296) scale(0.86 1)" font-family='"Liberation Sans", sans-serif' font-size="9.4" fill="#3355ff" text-anchor="start" xml:space="preserve">-0.1</text>
<line x1="182" y1="280.4" x2="183.4" y2="280.4" stroke="#5070ff" stroke-width="0.9"/>
<line x1="182" y1="267.4" x2="184.6" y2="267.4" stroke="#5070ff" stroke-width="0.9"/>
<text transform="translate(185.6 270) scale(0.86 1)" font-family='"Liberation Sans", sans-serif' font-size="9.4" fill="#3355ff" text-anchor="start" xml:space="preserve">0.0</text>
<line x1="182" y1="254.4" x2="183.4" y2="254.4" stroke="#5070ff" stroke-width="0.9"/>
<line x1="29.6" y1="248.4" x2="182" y2="248.4" stroke="#777" stroke-width="1.0"/>
<line x1="29.6" y1="384.4" x2="182" y2="384.4" stroke="#3a3a3a" stroke-width="1.0"/>
<line x1="29.6" y1="248.4" x2="29.6" y2="384.4" stroke="#444" stroke-width="1.0"/>
<line x1="182" y1="248.4" x2="182" y2="384.4" stroke="#5070ff" stroke-width="1.0"/>
<text transform="translate(105.8 412.8)" font-family='"Liberation Sans", sans-serif' font-size="11.5" fill="#1a1a1a" text-anchor="middle" textLength="83.5" lengthAdjust="spacingAndGlyphs" xml:space="preserve">Temperature (°C)</text>
<text transform="translate(7.9 316.9) rotate(-90)" font-family='"Liberation Sans", sans-serif' font-size="11.3" fill="#1a1a1a" text-anchor="middle" textLength="56.2" lengthAdjust="spacingAndGlyphs" xml:space="preserve">Weight (%)</text>
<text transform="translate(209.5 386.2) rotate(-90)" font-family='"Liberation Sans", sans-serif' font-size="11.3" fill="#1a1a1a" text-anchor="start" textLength="144" lengthAdjust="spacingAndGlyphs" xml:space="preserve">Derivative Weight  (mg/min)</text>
<text transform="translate(103.8 213.7)" font-family='"Liberation Serif", serif' font-size="13" fill="#111" text-anchor="middle" xml:space="preserve">d</text>
<path d="M40.4,259.6 C41.35,259.7 44.05,259.9 46.1,260.2 C48.15,260.5 50.22,260.93 52.7,261.4 C55.18,261.87 58.52,262.5 61,263 C63.48,263.5 65.68,263.9 67.6,264.4 C69.52,264.9 70.87,265.38 72.5,266 C74.13,266.62 76.15,267.62 77.4,268.1 C78.65,268.58 78.75,267.95 80,268.9 C81.25,269.85 83.25,271.73 84.9,273.8 C86.55,275.87 87.97,278.55 89.9,281.3 C91.83,284.05 94.3,287.15 96.5,290.3 C98.7,293.45 100.85,297.52 103.1,300.2 C105.35,302.88 107.43,303.97 110,306.4 C112.57,308.83 115.68,312.33 118.5,314.8 C121.32,317.27 124.08,319.25 126.9,321.2 C129.72,323.15 132.57,324.73 135.4,326.5 C138.23,328.27 141.07,330.03 143.9,331.8 C146.73,333.57 149.22,335.68 152.4,337.1 C155.58,338.52 159.47,339.5 163,340.3 C166.53,341.1 170.43,341.45 173.6,341.9 C176.77,342.35 180.6,342.82 182,343" fill="none" stroke="#000" stroke-width="2.0" stroke-linejoin="round" stroke-dasharray="4 2"/>
<path d="M40.4,259 C41.35,259.08 44.05,259.22 46.1,259.5 C48.15,259.78 50.22,260.23 52.7,260.7 C55.18,261.17 58.52,261.83 61,262.3 C63.48,262.77 65.4,262.82 67.6,263.5 C69.8,264.18 72.13,265.08 74.2,266.4 C76.27,267.72 78.22,269.62 80,271.4 C81.78,273.18 83.25,274.9 84.9,277.1 C86.55,279.3 88.25,282.12 89.9,284.6 C91.55,287.08 93.15,289.53 94.8,292 C96.45,294.47 98.15,297.07 99.8,299.4 C101.45,301.73 103,303.78 104.7,306 C106.4,308.22 107.7,310.17 110,312.7 C112.3,315.23 115.68,318.73 118.5,321.2 C121.32,323.67 124.08,325.38 126.9,327.5 C129.72,329.62 132.57,331.42 135.4,333.9 C138.23,336.38 141.07,339.85 143.9,342.4 C146.73,344.95 149.93,347.52 152.4,349.2 C154.87,350.88 156.23,351.58 158.7,352.5 C161.17,353.42 163.32,353.85 167.2,354.7 C171.08,355.55 179.53,357.12 182,357.6" fill="none" stroke="#000" stroke-width="2.0" stroke-linejoin="round"/>
<path d="M39.5,259.8 C40.05,260.9 41.7,264.47 42.8,266.4 C43.9,268.33 45,269.47 46.1,271.4 C47.2,273.33 48.3,275.95 49.4,278 C50.5,280.05 51.87,282.6 52.7,283.7 C53.53,284.8 53.57,285.15 54.4,284.6 C55.23,284.05 56.33,282.05 57.7,280.4 C59.07,278.75 61.37,275.8 62.6,274.7 C63.83,273.6 64.27,273.4 65.1,273.8 C65.93,274.2 66.37,275.03 67.6,277.1 C68.83,279.17 70.87,283.32 72.5,286.2 C74.13,289.08 76.17,291.93 77.4,294.4 C78.63,296.87 79.2,298.25 79.9,301 C80.6,303.75 81,308.03 81.6,310.9 C82.2,313.77 82.87,313.83 83.5,318.2 C84.13,322.57 84.88,330.82 85.4,337.1 C85.92,343.38 86.2,350.82 86.6,355.9 C87,360.98 87.33,365.83 87.8,367.6 C88.27,369.37 88.73,368.07 89.4,366.5 C90.07,364.93 90.82,360.95 91.8,358.2 C92.78,355.45 93.93,352.55 95.3,350 C96.67,347.45 98.63,345.25 100,342.9 C101.37,340.55 102.52,338.45 103.5,335.9 C104.48,333.35 105.12,329.57 105.9,327.6 C106.68,325.63 107.03,324.88 108.2,324.1 C109.37,323.32 111.53,323.57 112.9,322.9 C114.27,322.23 114.77,321.8 116.4,320.1 C118.03,318.4 120.58,314.82 122.7,312.7 C124.82,310.58 126.98,308.98 129.1,307.4 C131.22,305.82 133.97,304.28 135.4,303.2 C136.83,302.12 136.25,301.72 137.7,300.9 C139.15,300.08 141.98,298.83 144.1,298.3 C146.22,297.77 148.98,298.5 150.4,297.7 C151.82,296.9 151.72,295.45 152.6,293.5 C153.48,291.55 154.3,288.3 155.7,286 C157.1,283.7 159.05,281.28 161,279.7 C162.95,278.12 165.27,277.5 167.4,276.5 C169.53,275.5 171.4,274.4 173.8,273.7 C176.2,273 180.47,272.53 181.8,272.3" fill="none" stroke="#1b3cff" stroke-width="2.0" stroke-linejoin="round" stroke-dasharray="4 2"/>
<path d="M39.5,274.7 C39.57,271.95 39.75,259.98 39.9,258.2 C40.05,256.42 39.63,262.48 40.4,264 C41.17,265.52 43,266.07 44.5,267.3 C46,268.53 48.03,270.45 49.4,271.4 C50.77,272.35 51.47,273 52.7,273 C53.93,273 55.42,271.95 56.8,271.4 C58.18,270.85 59.75,269.85 61,269.7 C62.25,269.55 63.07,269.82 64.3,270.5 C65.53,271.18 67.03,272.55 68.4,273.8 C69.77,275.05 71,276.62 72.5,278 C74,279.38 76.15,281 77.4,282.1 C78.65,283.2 78.75,284.05 80,284.6 C81.25,285.15 83.25,284.72 84.9,285.4 C86.55,286.08 88.65,288.02 89.9,288.7 C91.15,289.38 91.58,289.37 92.4,289.5 C93.22,289.63 93.85,288.95 94.8,289.5 C95.75,290.05 97.13,291.98 98.1,292.8 C99.07,293.62 99.77,294.27 100.6,294.4 C101.43,294.53 102.13,294.42 103.1,293.6 C104.07,292.78 105.03,291 106.4,289.5 C107.77,288 109.38,286.12 111.3,284.6 C113.22,283.08 115.7,281.37 117.9,280.4 C120.1,279.43 122.25,278.98 124.5,278.8 C126.75,278.62 129.2,278.87 131.4,279.3 C133.6,279.73 135.93,280.7 137.7,281.4 C139.47,282.1 140.58,283.5 142,283.5 C143.42,283.5 144.43,282.38 146.2,281.4 C147.97,280.42 150.48,278.95 152.6,277.6 C154.72,276.25 156.78,274.43 158.9,273.3 C161.02,272.17 162.82,271.25 165.3,270.8 C167.78,270.35 171.05,270.53 173.8,270.6 C176.55,270.67 180.47,271.1 181.8,271.2" fill="none" stroke="#1b3cff" stroke-width="2.0" stroke-linejoin="round"/>
<line x1="42.8" y1="240.8" x2="67.3" y2="240.8" stroke="#1b3cff" stroke-width="2.0"/>
<text transform="translate(69.7 244.7)" font-family='"Liberation Sans", sans-serif' font-size="10.9" fill="#111" text-anchor="start" textLength="28.7" lengthAdjust="spacingAndGlyphs" xml:space="preserve">AGB3</text>
<line x1="127.4" y1="240.8" x2="152.5" y2="240.8" stroke="#1b3cff" stroke-width="2.0" stroke-dasharray="4 2.5"/>
<text transform="translate(154.7 244.7)" font-family='"Liberation Sans", sans-serif' font-size="10.9" fill="#111" text-anchor="start" textLength="19.8" lengthAdjust="spacingAndGlyphs" xml:space="preserve">BL3</text>
<text transform="translate(49 279.55) rotate(-90)" font-family='"Liberation Sans", sans-serif' font-size="8.9" fill="#111" text-anchor="middle" textLength="15.1" lengthAdjust="spacingAndGlyphs" xml:space="preserve">81.1</text>
<text transform="translate(57.2 292.5) rotate(-90)" font-family='"Liberation Sans", sans-serif' font-size="8.9" fill="#111" text-anchor="middle" textLength="15" lengthAdjust="spacingAndGlyphs" xml:space="preserve">87.4</text>
<text transform="translate(84.4 370) rotate(-90)" font-family='"Liberation Sans", sans-serif' font-size="8.9" fill="#111" text-anchor="middle" textLength="21.8" lengthAdjust="spacingAndGlyphs" xml:space="preserve">231.6</text>
<text transform="translate(100.4 310) rotate(-90)" font-family='"Liberation Sans", sans-serif' font-size="8.9" fill="#111" text-anchor="middle" textLength="21.8" lengthAdjust="spacingAndGlyphs" xml:space="preserve">280.5</text>
<text transform="translate(146.2 269.1) rotate(-90)" font-family='"Liberation Sans", sans-serif' font-size="8.9" fill="#111" text-anchor="middle" textLength="21.8" lengthAdjust="spacingAndGlyphs" xml:space="preserve">443.9</text>
<text transform="translate(155.3 311.5) rotate(-90)" font-family='"Liberation Sans", sans-serif' font-size="8.9" fill="#111" text-anchor="middle" textLength="21.8" lengthAdjust="spacingAndGlyphs" xml:space="preserve">472.2</text>
<line x1="268.8" y1="384.5" x2="268.8" y2="387.1" stroke="#3a3a3a" stroke-width="0.9"/>
<text transform="translate(268.8 395.6) scale(0.86 1)" font-family='"Liberation Sans", sans-serif' font-size="9.4" fill="#222" text-anchor="middle" xml:space="preserve">0</text>
<line x1="281.5" y1="384.5" x2="281.5" y2="386.1" stroke="#3a3a3a" stroke-width="0.9"/>
<line x1="281.5" y1="248.5" x2="281.5" y2="249.9" stroke="#3a3a3a" stroke-width="0.9"/>
<line x1="294.2" y1="384.5" x2="294.2" y2="387.1" stroke="#3a3a3a" stroke-width="0.9"/>
<line x1="294.2" y1="248.5" x2="294.2" y2="250.9" stroke="#3a3a3a" stroke-width="0.9"/>
<text transform="translate(294.2 395.6) scale(0.86 1)" font-family='"Liberation Sans", sans-serif' font-size="9.4" fill="#222" text-anchor="middle" xml:space="preserve">100</text>
<line x1="306.9" y1="384.5" x2="306.9" y2="386.1" stroke="#3a3a3a" stroke-width="0.9"/>
<line x1="306.9" y1="248.5" x2="306.9" y2="249.9" stroke="#3a3a3a" stroke-width="0.9"/>
<line x1="319.6" y1="384.5" x2="319.6" y2="387.1" stroke="#3a3a3a" stroke-width="0.9"/>
<line x1="319.6" y1="248.5" x2="319.6" y2="250.9" stroke="#3a3a3a" stroke-width="0.9"/>
<text transform="translate(319.6 395.6) scale(0.86 1)" font-family='"Liberation Sans", sans-serif' font-size="9.4" fill="#222" text-anchor="middle" xml:space="preserve">200</text>
<line x1="332.3" y1="384.5" x2="332.3" y2="386.1" stroke="#3a3a3a" stroke-width="0.9"/>
<line x1="332.3" y1="248.5" x2="332.3" y2="249.9" stroke="#3a3a3a" stroke-width="0.9"/>
<line x1="345" y1="384.5" x2="345" y2="387.1" stroke="#3a3a3a" stroke-width="0.9"/>
<line x1="345" y1="248.5" x2="345" y2="250.9" stroke="#3a3a3a" stroke-width="0.9"/>
<text transform="translate(345 395.6) scale(0.86 1)" font-family='"Liberation Sans", sans-serif' font-size="9.4" fill="#222" text-anchor="middle" xml:space="preserve">300</text>
<line x1="357.7" y1="384.5" x2="357.7" y2="386.1" stroke="#3a3a3a" stroke-width="0.9"/>
<line x1="357.7" y1="248.5" x2="357.7" y2="249.9" stroke="#3a3a3a" stroke-width="0.9"/>
<line x1="370.4" y1="384.5" x2="370.4" y2="387.1" stroke="#3a3a3a" stroke-width="0.9"/>
<line x1="370.4" y1="248.5" x2="370.4" y2="250.9" stroke="#3a3a3a" stroke-width="0.9"/>
<text transform="translate(370.4 395.6) scale(0.86 1)" font-family='"Liberation Sans", sans-serif' font-size="9.4" fill="#222" text-anchor="middle" xml:space="preserve">400</text>
<line x1="383.1" y1="384.5" x2="383.1" y2="386.1" stroke="#3a3a3a" stroke-width="0.9"/>
<line x1="383.1" y1="248.5" x2="383.1" y2="249.9" stroke="#3a3a3a" stroke-width="0.9"/>
<line x1="395.8" y1="384.5" x2="395.8" y2="387.1" stroke="#3a3a3a" stroke-width="0.9"/>
<line x1="395.8" y1="248.5" x2="395.8" y2="250.9" stroke="#3a3a3a" stroke-width="0.9"/>
<text transform="translate(395.8 395.6) scale(0.86 1)" font-family='"Liberation Sans", sans-serif' font-size="9.4" fill="#222" text-anchor="middle" xml:space="preserve">500</text>
<line x1="408.5" y1="384.5" x2="408.5" y2="386.1" stroke="#3a3a3a" stroke-width="0.9"/>
<line x1="408.5" y1="248.5" x2="408.5" y2="249.9" stroke="#3a3a3a" stroke-width="0.9"/>
<line x1="421.2" y1="384.5" x2="421.2" y2="387.1" stroke="#3a3a3a" stroke-width="0.9"/>
<text transform="translate(421.2 395.6) scale(0.86 1)" font-family='"Liberation Sans", sans-serif' font-size="9.4" fill="#222" text-anchor="middle" xml:space="preserve">600</text>
<line x1="266.2" y1="384.5" x2="268.8" y2="384.5" stroke="#3a3a3a" stroke-width="0.9"/>
<text transform="translate(264.8 387.1) scale(0.86 1)" font-family='"Liberation Sans", sans-serif' font-size="9.4" fill="#222" text-anchor="end" xml:space="preserve">30</text>
<line x1="267.4" y1="375.41" x2="268.8" y2="375.41" stroke="#3a3a3a" stroke-width="0.9"/>
<line x1="266.2" y1="366.31" x2="268.8" y2="366.31" stroke="#3a3a3a" stroke-width="0.9"/>
<text transform="translate(264.8 368.91) scale(0.86 1)" font-family='"Liberation Sans", sans-serif' font-size="9.4" fill="#222" text-anchor="end" xml:space="preserve">40</text>
<line x1="267.4" y1="357.22" x2="268.8" y2="357.22" stroke="#3a3a3a" stroke-width="0.9"/>
<line x1="266.2" y1="348.13" x2="268.8" y2="348.13" stroke="#3a3a3a" stroke-width="0.9"/>
<text transform="translate(264.8 350.73) scale(0.86 1)" font-family='"Liberation Sans", sans-serif' font-size="9.4" fill="#222" text-anchor="end" xml:space="preserve">50</text>
<line x1="267.4" y1="339.04" x2="268.8" y2="339.04" stroke="#3a3a3a" stroke-width="0.9"/>
<line x1="266.2" y1="329.94" x2="268.8" y2="329.94" stroke="#3a3a3a" stroke-width="0.9"/>
<text transform="translate(264.8 332.54) scale(0.86 1)" font-family='"Liberation Sans", sans-serif' font-size="9.4" fill="#222" text-anchor="end" xml:space="preserve">60</text>
<line x1="267.4" y1="320.85" x2="268.8" y2="320.85" stroke="#3a3a3a" stroke-width="0.9"/>
<line x1="266.2" y1="311.76" x2="268.8" y2="311.76" stroke="#3a3a3a" stroke-width="0.9"/>
<text transform="translate(264.8 314.36) scale(0.86 1)" font-family='"Liberation Sans", sans-serif' font-size="9.4" fill="#222" text-anchor="end" xml:space="preserve">70</text>
<line x1="267.4" y1="302.66" x2="268.8" y2="302.66" stroke="#3a3a3a" stroke-width="0.9"/>
<line x1="266.2" y1="293.57" x2="268.8" y2="293.57" stroke="#3a3a3a" stroke-width="0.9"/>
<text transform="translate(264.8 296.17) scale(0.86 1)" font-family='"Liberation Sans", sans-serif' font-size="9.4" fill="#222" text-anchor="end" xml:space="preserve">80</text>
<line x1="267.4" y1="284.48" x2="268.8" y2="284.48" stroke="#3a3a3a" stroke-width="0.9"/>
<line x1="266.2" y1="275.39" x2="268.8" y2="275.39" stroke="#3a3a3a" stroke-width="0.9"/>
<text transform="translate(264.8 277.99) scale(0.86 1)" font-family='"Liberation Sans", sans-serif' font-size="9.4" fill="#222" text-anchor="end" xml:space="preserve">90</text>
<line x1="267.4" y1="266.29" x2="268.8" y2="266.29" stroke="#3a3a3a" stroke-width="0.9"/>
<line x1="266.2" y1="257.2" x2="268.8" y2="257.2" stroke="#3a3a3a" stroke-width="0.9"/>
<text transform="translate(264.8 259.8) scale(0.86 1)" font-family='"Liberation Sans", sans-serif' font-size="9.4" fill="#222" text-anchor="end" xml:space="preserve">100</text>
<line x1="267.4" y1="248.11" x2="268.8" y2="248.11" stroke="#3a3a3a" stroke-width="0.9"/>
<line x1="421.2" y1="373.4" x2="423.8" y2="373.4" stroke="#5070ff" stroke-width="0.9"/>
<text transform="translate(424.8 376) scale(0.86 1)" font-family='"Liberation Sans", sans-serif' font-size="9.4" fill="#3355ff" text-anchor="start" xml:space="preserve">-0.2</text>
<line x1="421.2" y1="350.55" x2="422.6" y2="350.55" stroke="#5070ff" stroke-width="0.9"/>
<line x1="421.2" y1="327.7" x2="423.8" y2="327.7" stroke="#5070ff" stroke-width="0.9"/>
<text transform="translate(424.8 330.3) scale(0.86 1)" font-family='"Liberation Sans", sans-serif' font-size="9.4" fill="#3355ff" text-anchor="start" xml:space="preserve">-0.1</text>
<line x1="421.2" y1="304.85" x2="422.6" y2="304.85" stroke="#5070ff" stroke-width="0.9"/>
<line x1="421.2" y1="282" x2="423.8" y2="282" stroke="#5070ff" stroke-width="0.9"/>
<text transform="translate(424.8 284.6) scale(0.86 1)" font-family='"Liberation Sans", sans-serif' font-size="9.4" fill="#3355ff" text-anchor="start" xml:space="preserve">0.0</text>
<line x1="421.2" y1="259.15" x2="422.6" y2="259.15" stroke="#5070ff" stroke-width="0.9"/>
<line x1="268.8" y1="248.5" x2="421.2" y2="248.5" stroke="#777" stroke-width="1.0"/>
<line x1="268.8" y1="384.5" x2="421.2" y2="384.5" stroke="#3a3a3a" stroke-width="1.0"/>
<line x1="268.8" y1="248.5" x2="268.8" y2="384.5" stroke="#444" stroke-width="1.0"/>
<line x1="421.2" y1="248.5" x2="421.2" y2="384.5" stroke="#5070ff" stroke-width="1.0"/>
<text transform="translate(345 412.9)" font-family='"Liberation Sans", sans-serif' font-size="11.5" fill="#1a1a1a" text-anchor="middle" textLength="83.5" lengthAdjust="spacingAndGlyphs" xml:space="preserve">Temperature (°C)</text>
<text transform="translate(247.1 317) rotate(-90)" font-family='"Liberation Sans", sans-serif' font-size="11.3" fill="#1a1a1a" text-anchor="middle" textLength="56.2" lengthAdjust="spacingAndGlyphs" xml:space="preserve">Weight (%)</text>
<text transform="translate(447.8 385.5) rotate(-90)" font-family='"Liberation Sans", sans-serif' font-size="11.3" fill="#1a1a1a" text-anchor="start" textLength="143.6" lengthAdjust="spacingAndGlyphs" xml:space="preserve">Derivative Weight  (mg/min)</text>
<text transform="translate(340.3 213.8)" font-family='"Liberation Serif", serif' font-size="13" fill="#111" text-anchor="middle" xml:space="preserve">e</text>
<path d="M277.9,257 C278.98,256.92 281.93,256.47 284.4,256.5 C286.87,256.53 289.95,257.03 292.7,257.2 C295.45,257.37 298.17,257.43 300.9,257.5 C303.63,257.57 306.95,257.48 309.1,257.6 C311.25,257.72 312.23,257.75 313.8,258.2 C315.37,258.65 316.93,259.6 318.5,260.3 C320.07,261 321.63,261.77 323.2,262.4 C324.77,263.03 326.13,263.5 327.9,264.1 C329.67,264.7 331.78,265.23 333.8,266 C335.82,266.77 337.23,267.83 340,268.7 C342.77,269.57 346.95,270.35 350.4,271.2 C353.85,272.05 357.25,273.02 360.7,273.8 C364.15,274.58 367.63,275.2 371.1,275.9 C374.57,276.6 378.05,277.43 381.5,278 C384.95,278.57 387.92,278.87 391.8,279.3 C395.68,279.73 400.05,280.08 404.8,280.6 C409.55,281.12 417.72,282.1 420.3,282.4" fill="none" stroke="#000" stroke-width="2.0" stroke-linejoin="round" stroke-dasharray="4 2"/>
<path d="M277.9,257.5 C278.72,257.42 281.43,256.8 282.8,257 C284.17,257.2 284.73,257.73 286.1,258.7 C287.47,259.67 289.35,261.43 291,262.8 C292.65,264.17 294.35,265.67 296,266.9 C297.65,268.13 298.98,269.18 300.9,270.2 C302.82,271.22 305.3,272.27 307.5,273 C309.7,273.73 312.35,274.17 314.1,274.6 C315.85,275.03 316.18,274.87 318,275.6 C319.82,276.33 322.93,277.43 325,279 C327.07,280.57 328.55,283.07 330.4,285 C332.25,286.93 334.5,288.67 336.1,290.6 C337.7,292.53 338.05,294.08 340,296.6 C341.95,299.12 345.22,302.88 347.8,305.7 C350.38,308.52 352.92,311.12 355.5,313.5 C358.08,315.88 360.7,317.97 363.3,320 C365.9,322.03 368.5,323.77 371.1,325.7 C373.7,327.63 376.32,329.62 378.9,331.6 C381.48,333.58 384.02,336 386.6,337.6 C389.18,339.2 391.37,340.17 394.4,341.2 C397.43,342.23 400.48,343.02 404.8,343.8 C409.12,344.58 417.72,345.55 420.3,345.9" fill="none" stroke="#000" stroke-width="2.0" stroke-linejoin="round"/>
<path d="M277.9,265.3 C278.3,267.22 279.48,274.2 280.3,276.8 C281.12,279.4 281.97,278.98 282.8,280.9 C283.63,282.82 284.48,285.97 285.3,288.3 C286.12,290.63 286.88,293.93 287.7,294.9 C288.52,295.87 289.1,294.93 290.2,294.1 C291.3,293.27 292.78,291.28 294.3,289.9 C295.82,288.52 297.65,286.88 299.3,285.8 C300.95,284.72 302.83,283.67 304.2,283.4 C305.57,283.13 306.55,283 307.5,284.2 C308.45,285.4 309.13,288.35 309.9,290.6 C310.67,292.85 311.55,295.1 312.1,297.7 C312.65,300.3 312.92,302.43 313.2,306.2 C313.48,309.97 313.57,315.6 313.8,320.3 C314.03,325 314.37,330.43 314.6,334.4 C314.83,338.37 314.92,340.13 315.2,344.1 C315.48,348.07 316,355.6 316.3,358.2 C316.6,360.8 316.65,361.33 317,359.7 C317.35,358.07 318.05,351 318.4,348.4 C318.75,345.8 318.78,344.1 319.1,344.1 C319.42,344.1 319.95,346.63 320.3,348.4 C320.65,350.17 320.92,353.53 321.2,354.7 C321.48,355.87 321.68,356.45 322,355.4 C322.32,354.35 322.83,350.75 323.1,348.4 C323.37,346.05 323.32,344.1 323.6,341.3 C323.88,338.5 324.37,334.17 324.8,331.6 C325.23,329.03 325.73,326.97 326.2,325.9 C326.67,324.83 327.02,324.48 327.6,325.2 C328.18,325.92 329,327.97 329.7,330.2 C330.4,332.43 331.08,336.28 331.8,338.6 C332.52,340.92 333.28,343.07 334,344.1 C334.72,345.13 335.4,345.27 336.1,344.8 C336.8,344.33 337.38,342.83 338.2,341.3 C339.02,339.77 340.18,337.48 341,335.6 C341.82,333.72 342.4,331.32 343.1,330 C343.8,328.68 343.98,329.15 345.2,327.7 C346.42,326.25 348.68,323.67 350.4,321.3 C352.12,318.93 354,316.1 355.5,313.5 C357,310.9 357.88,307.22 359.4,305.7 C360.92,304.18 362.87,304.62 364.6,304.4 C366.33,304.18 368.07,304.1 369.8,304.4 C371.53,304.7 373.27,306.2 375,306.2 C376.73,306.2 378.48,305.57 380.2,304.4 C381.92,303.23 383.37,300.58 385.3,299.2 C387.23,297.82 389.42,296.62 391.8,296.1 C394.18,295.58 397.22,295.8 399.6,296.1 C401.98,296.4 403.93,297.68 406.1,297.9 C408.27,298.12 410.23,297.4 412.6,297.4 C414.97,297.4 419.02,297.82 420.3,297.9" fill="none" stroke="#1b3cff" stroke-width="2.0" stroke-linejoin="round" stroke-dasharray="4 2"/>
<path d="M277.9,294 C277.95,289.58 278.05,271.33 278.2,267.5 C278.35,263.67 278.3,267.12 278.8,271 C279.3,274.88 280.53,285.32 281.2,290.8 C281.87,296.28 282.18,300.25 282.8,303.9 C283.42,307.55 284.18,309.12 284.9,312.7 C285.62,316.28 286.38,321.68 287.1,325.4 C287.82,329.12 288.5,332.7 289.2,335 C289.9,337.3 290.6,338.85 291.3,339.2 C292,339.55 292.52,338.87 293.4,337.1 C294.28,335.33 295.53,331.6 296.6,328.6 C297.67,325.6 298.73,321.92 299.8,319.1 C300.87,316.28 301.95,313.4 303,311.7 C304.05,310 305.07,310.42 306.1,308.9 C307.13,307.38 308.2,304.35 309.2,302.6 C310.2,300.85 311.27,299.1 312.1,298.4 C312.93,297.7 313.5,297.82 314.2,298.4 C314.9,298.98 315.6,299.9 316.3,301.9 C317,303.9 317.7,307.33 318.4,310.4 C319.1,313.47 319.8,317.23 320.5,320.3 C321.2,323.37 321.88,325.98 322.6,328.8 C323.32,331.62 324.08,334.5 324.8,337.2 C325.52,339.9 326.32,343.13 326.9,345 C327.48,346.87 327.48,347.13 328.3,348.4 C329.12,349.67 330.85,351.55 331.8,352.6 C332.75,353.65 333.4,353.52 334,354.7 C334.6,355.88 334.93,357.47 335.4,359.7 C335.87,361.93 336.33,365.52 336.8,368.1 C337.27,370.68 337.73,374.02 338.2,375.2 C338.67,376.38 339.13,375.9 339.6,375.2 C340.07,374.5 340.42,373.35 341,371 C341.58,368.65 342.38,364.4 343.1,361.1 C343.82,357.8 344.52,353.72 345.3,351.2 C346.08,348.68 346.98,347.77 347.8,346 C348.62,344.23 349.33,341.92 350.2,340.6 C351.07,339.28 351.25,340.03 353,338.1 C354.75,336.17 358.12,331.03 360.7,329 C363.28,326.97 366.33,326.12 368.5,325.9 C370.67,325.68 371.97,327.3 373.7,327.7 C375.43,328.1 377.17,328.52 378.9,328.3 C380.63,328.08 382.38,327.78 384.1,326.4 C385.82,325.02 387.48,322.8 389.2,320 C390.92,317.2 392.67,313.07 394.4,309.6 C396.13,306.13 397.87,301.78 399.6,299.2 C401.33,296.62 402.85,295.6 404.8,294.1 C406.75,292.6 409.58,290.85 411.3,290.2 C413.02,289.55 413.6,290.2 415.1,290.2 C416.6,290.2 419.43,290.2 420.3,290.2" fill="none" stroke="#1b3cff" stroke-width="2.0" stroke-linejoin="round"/>
<line x1="282.3" y1="240.8" x2="306.8" y2="240.8" stroke="#1b3cff" stroke-width="2.0"/>
<text transform="translate(309.4 244.7)" font-family='"Liberation Sans", sans-serif' font-size="10.9" fill="#111" text-anchor="start" textLength="28.5" lengthAdjust="spacingAndGlyphs" xml:space="preserve">AGB4</text>
<line x1="364.4" y1="240.8" x2="388.9" y2="240.8" stroke="#1b3cff" stroke-width="2.0" stroke-dasharray="4 2.5"/>
<text transform="translate(391.1 244.7)" font-family='"Liberation Sans", sans-serif' font-size="10.9" fill="#111" text-anchor="start" textLength="19.5" lengthAdjust="spacingAndGlyphs" xml:space="preserve">BL4</text>
<text transform="translate(293.4 306.4) rotate(-90)" font-family='"Liberation Sans", sans-serif' font-size="8.9" fill="#111" text-anchor="middle" textLength="17" lengthAdjust="spacingAndGlyphs" xml:space="preserve">78.9</text>
<text transform="translate(293.4 349.25) rotate(-90)" font-family='"Liberation Sans", sans-serif' font-size="8.9" fill="#111" text-anchor="middle" textLength="16.5" lengthAdjust="spacingAndGlyphs" xml:space="preserve">84.9</text>
<text transform="translate(320.2 373.1) rotate(-90)" font-family='"Liberation Sans", sans-serif' font-size="8.9" fill="#111" text-anchor="middle" textLength="23.2" lengthAdjust="spacingAndGlyphs" xml:space="preserve">188.9</text>
<text transform="translate(339.3 323.1) rotate(-90)" font-family='"Liberation Sans", sans-serif' font-size="8.9" fill="#111" text-anchor="middle" textLength="23.2" lengthAdjust="spacingAndGlyphs" xml:space="preserve">266.9</text>
<text transform="translate(350.6 373.1) rotate(-90)" font-family='"Liberation Sans", sans-serif' font-size="8.9" fill="#111" text-anchor="middle" textLength="20.4" lengthAdjust="spacingAndGlyphs" xml:space="preserve">274.8</text>
<text transform="translate(384.7 343.95) rotate(-90)" font-family='"Liberation Sans", sans-serif' font-size="8.9" fill="#111" text-anchor="middle" textLength="22.7" lengthAdjust="spacingAndGlyphs" xml:space="preserve">450.5</text>
<line x1="502.3" y1="392.3" x2="502.3" y2="394.9" stroke="#3a3a3a" stroke-width="0.9"/>
<text transform="translate(502.3 403.4) scale(0.86 1)" font-family='"Liberation Sans", sans-serif' font-size="9.4" fill="#222" text-anchor="middle" xml:space="preserve">0</text>
<line x1="515.04" y1="392.3" x2="515.04" y2="393.9" stroke="#3a3a3a" stroke-width="0.9"/>
<line x1="515.04" y1="248.9" x2="515.04" y2="250.3" stroke="#3a3a3a" stroke-width="0.9"/>
<line x1="527.78" y1="392.3" x2="527.78" y2="394.9" stroke="#3a3a3a" stroke-width="0.9"/>
<line x1="527.78" y1="248.9" x2="527.78" y2="251.3" stroke="#3a3a3a" stroke-width="0.9"/>
<text transform="translate(527.78 403.4) scale(0.86 1)" font-family='"Liberation Sans", sans-serif' font-size="9.4" fill="#222" text-anchor="middle" xml:space="preserve">100</text>
<line x1="540.52" y1="392.3" x2="540.52" y2="393.9" stroke="#3a3a3a" stroke-width="0.9"/>
<line x1="540.52" y1="248.9" x2="540.52" y2="250.3" stroke="#3a3a3a" stroke-width="0.9"/>
<line x1="553.27" y1="392.3" x2="553.27" y2="394.9" stroke="#3a3a3a" stroke-width="0.9"/>
<line x1="553.27" y1="248.9" x2="553.27" y2="251.3" stroke="#3a3a3a" stroke-width="0.9"/>
<text transform="translate(553.27 403.4) scale(0.86 1)" font-family='"Liberation Sans", sans-serif' font-size="9.4" fill="#222" text-anchor="middle" xml:space="preserve">200</text>
<line x1="566.01" y1="392.3" x2="566.01" y2="393.9" stroke="#3a3a3a" stroke-width="0.9"/>
<line x1="566.01" y1="248.9" x2="566.01" y2="250.3" stroke="#3a3a3a" stroke-width="0.9"/>
<line x1="578.75" y1="392.3" x2="578.75" y2="394.9" stroke="#3a3a3a" stroke-width="0.9"/>
<line x1="578.75" y1="248.9" x2="578.75" y2="251.3" stroke="#3a3a3a" stroke-width="0.9"/>
<text transform="translate(578.75 403.4) scale(0.86 1)" font-family='"Liberation Sans", sans-serif' font-size="9.4" fill="#222" text-anchor="middle" xml:space="preserve">300</text>
<line x1="591.49" y1="392.3" x2="591.49" y2="393.9" stroke="#3a3a3a" stroke-width="0.9"/>
<line x1="591.49" y1="248.9" x2="591.49" y2="250.3" stroke="#3a3a3a" stroke-width="0.9"/>
<line x1="604.23" y1="392.3" x2="604.23" y2="394.9" stroke="#3a3a3a" stroke-width="0.9"/>
<line x1="604.23" y1="248.9" x2="604.23" y2="251.3" stroke="#3a3a3a" stroke-width="0.9"/>
<text transform="translate(604.23 403.4) scale(0.86 1)" font-family='"Liberation Sans", sans-serif' font-size="9.4" fill="#222" text-anchor="middle" xml:space="preserve">400</text>
<line x1="616.98" y1="392.3" x2="616.98" y2="393.9" stroke="#3a3a3a" stroke-width="0.9"/>
<line x1="616.98" y1="248.9" x2="616.98" y2="250.3" stroke="#3a3a3a" stroke-width="0.9"/>
<line x1="629.72" y1="392.3" x2="629.72" y2="394.9" stroke="#3a3a3a" stroke-width="0.9"/>
<line x1="629.72" y1="248.9" x2="629.72" y2="251.3" stroke="#3a3a3a" stroke-width="0.9"/>
<text transform="translate(629.72 403.4) scale(0.86 1)" font-family='"Liberation Sans", sans-serif' font-size="9.4" fill="#222" text-anchor="middle" xml:space="preserve">500</text>
<line x1="642.46" y1="392.3" x2="642.46" y2="393.9" stroke="#3a3a3a" stroke-width="0.9"/>
<line x1="642.46" y1="248.9" x2="642.46" y2="250.3" stroke="#3a3a3a" stroke-width="0.9"/>
<line x1="655.2" y1="392.3" x2="655.2" y2="394.9" stroke="#3a3a3a" stroke-width="0.9"/>
<text transform="translate(655.2 403.4) scale(0.86 1)" font-family='"Liberation Sans", sans-serif' font-size="9.4" fill="#222" text-anchor="middle" xml:space="preserve">600</text>
<line x1="499.7" y1="392.3" x2="502.3" y2="392.3" stroke="#3a3a3a" stroke-width="0.9"/>
<text transform="translate(498.3 394.9) scale(0.86 1)" font-family='"Liberation Sans", sans-serif' font-size="9.4" fill="#222" text-anchor="end" xml:space="preserve">30</text>
<line x1="500.9" y1="382.75" x2="502.3" y2="382.75" stroke="#3a3a3a" stroke-width="0.9"/>
<line x1="499.7" y1="373.2" x2="502.3" y2="373.2" stroke="#3a3a3a" stroke-width="0.9"/>
<text transform="translate(498.3 375.8) scale(0.86 1)" font-family='"Liberation Sans", sans-serif' font-size="9.4" fill="#222" text-anchor="end" xml:space="preserve">40</text>
<line x1="500.9" y1="363.65" x2="502.3" y2="363.65" stroke="#3a3a3a" stroke-width="0.9"/>
<line x1="499.7" y1="354.1" x2="502.3" y2="354.1" stroke="#3a3a3a" stroke-width="0.9"/>
<text transform="translate(498.3 356.7) scale(0.86 1)" font-family='"Liberation Sans", sans-serif' font-size="9.4" fill="#222" text-anchor="end" xml:space="preserve">50</text>
<line x1="500.9" y1="344.55" x2="502.3" y2="344.55" stroke="#3a3a3a" stroke-width="0.9"/>
<line x1="499.7" y1="335" x2="502.3" y2="335" stroke="#3a3a3a" stroke-width="0.9"/>
<text transform="translate(498.3 337.6) scale(0.86 1)" font-family='"Liberation Sans", sans-serif' font-size="9.4" fill="#222" text-anchor="end" xml:space="preserve">60</text>
<line x1="500.9" y1="325.45" x2="502.3" y2="325.45" stroke="#3a3a3a" stroke-width="0.9"/>
<line x1="499.7" y1="315.9" x2="502.3" y2="315.9" stroke="#3a3a3a" stroke-width="0.9"/>
<text transform="translate(498.3 318.5) scale(0.86 1)" font-family='"Liberation Sans", sans-serif' font-size="9.4" fill="#222" text-anchor="end" xml:space="preserve">70</text>
<line x1="500.9" y1="306.35" x2="502.3" y2="306.35" stroke="#3a3a3a" stroke-width="0.9"/>
<line x1="499.7" y1="296.8" x2="502.3" y2="296.8" stroke="#3a3a3a" stroke-width="0.9"/>
<text transform="translate(498.3 299.4) scale(0.86 1)" font-family='"Liberation Sans", sans-serif' font-size="9.4" fill="#222" text-anchor="end" xml:space="preserve">80</text>
<line x1="500.9" y1="287.25" x2="502.3" y2="287.25" stroke="#3a3a3a" stroke-width="0.9"/>
<line x1="499.7" y1="277.7" x2="502.3" y2="277.7" stroke="#3a3a3a" stroke-width="0.9"/>
<text transform="translate(498.3 280.3) scale(0.86 1)" font-family='"Liberation Sans", sans-serif' font-size="9.4" fill="#222" text-anchor="end" xml:space="preserve">90</text>
<line x1="500.9" y1="268.15" x2="502.3" y2="268.15" stroke="#3a3a3a" stroke-width="0.9"/>
<line x1="499.7" y1="258.6" x2="502.3" y2="258.6" stroke="#3a3a3a" stroke-width="0.9"/>
<text transform="translate(498.3 261.2) scale(0.86 1)" font-family='"Liberation Sans", sans-serif' font-size="9.4" fill="#222" text-anchor="end" xml:space="preserve">100</text>
<line x1="500.9" y1="249.05" x2="502.3" y2="249.05" stroke="#3a3a3a" stroke-width="0.9"/>
<line x1="655.2" y1="392.3" x2="657.8" y2="392.3" stroke="#5070ff" stroke-width="0.9"/>
<text transform="translate(658.8 394.9) scale(0.86 1)" font-family='"Liberation Sans", sans-serif' font-size="9.4" fill="#3355ff" text-anchor="start" xml:space="preserve">-0.3</text>
<line x1="655.2" y1="373.15" x2="656.6" y2="373.15" stroke="#5070ff" stroke-width="0.9"/>
<line x1="655.2" y1="354" x2="657.8" y2="354" stroke="#5070ff" stroke-width="0.9"/>
<text transform="translate(658.8 356.6) scale(0.86 1)" font-family='"Liberation Sans", sans-serif' font-size="9.4" fill="#3355ff" text-anchor="start" xml:space="preserve">-0.2</text>
<line x1="655.2" y1="334.85" x2="656.6" y2="334.85" stroke="#5070ff" stroke-width="0.9"/>
<line x1="655.2" y1="315.7" x2="657.8" y2="315.7" stroke="#5070ff" stroke-width="0.9"/>
<text transform="translate(658.8 318.3) scale(0.86 1)" font-family='"Liberation Sans", sans-serif' font-size="9.4" fill="#3355ff" text-anchor="start" xml:space="preserve">-0.1</text>
<line x1="655.2" y1="296.55" x2="656.6" y2="296.55" stroke="#5070ff" stroke-width="0.9"/>
<line x1="655.2" y1="277.4" x2="657.8" y2="277.4" stroke="#5070ff" stroke-width="0.9"/>
<text transform="translate(658.8 280) scale(0.86 1)" font-family='"Liberation Sans", sans-serif' font-size="9.4" fill="#3355ff" text-anchor="start" xml:space="preserve">0.0</text>
<line x1="655.2" y1="258.25" x2="656.6" y2="258.25" stroke="#5070ff" stroke-width="0.9"/>
<line x1="502.3" y1="248.9" x2="655.2" y2="248.9" stroke="#777" stroke-width="1.0"/>
<line x1="502.3" y1="392.3" x2="655.2" y2="392.3" stroke="#3a3a3a" stroke-width="1.0"/>
<line x1="502.3" y1="248.9" x2="502.3" y2="392.3" stroke="#444" stroke-width="1.0"/>
<line x1="655.2" y1="248.9" x2="655.2" y2="392.3" stroke="#5070ff" stroke-width="1.0"/>
<text transform="translate(578.75 420.7)" font-family='"Liberation Sans", sans-serif' font-size="11.5" fill="#1a1a1a" text-anchor="middle" textLength="83.5" lengthAdjust="spacingAndGlyphs" xml:space="preserve">Temperature (°C)</text>
<text transform="translate(480.6 321.1) rotate(-90)" font-family='"Liberation Sans", sans-serif' font-size="11.3" fill="#1a1a1a" text-anchor="middle" textLength="56.2" lengthAdjust="spacingAndGlyphs" xml:space="preserve">Weight (%)</text>
<text transform="translate(681.5 393.3) rotate(-90)" font-family='"Liberation Sans", sans-serif' font-size="11.3" fill="#1a1a1a" text-anchor="start" textLength="151.1" lengthAdjust="spacingAndGlyphs" xml:space="preserve">Derivative Weight  (mg/min)</text>
<text transform="translate(576 213.7)" font-family='"Liberation Serif", serif' font-size="13" fill="#111" text-anchor="middle" xml:space="preserve">f</text>
<path d="M510.2,259.2 C511.57,259.15 515.65,258.9 518.4,258.9 C521.15,258.9 523.95,259.13 526.7,259.2 C529.45,259.27 532.17,259.23 534.9,259.3 C537.63,259.37 540.98,259.35 543.1,259.6 C545.22,259.85 546.15,260.2 547.6,260.8 C549.05,261.4 550.32,262.17 551.8,263.2 C553.28,264.23 554.83,265.83 556.5,267 C558.17,268.17 559.95,269.22 561.8,270.2 C563.65,271.18 565.45,271.88 567.6,272.9 C569.75,273.92 572.1,275.12 574.7,276.3 C577.3,277.48 580.38,278.88 583.2,280 C586.02,281.12 588.78,282.27 591.6,283 C594.42,283.73 596.72,283.95 600.1,284.4 C603.48,284.85 608.52,285.3 611.9,285.7 C615.28,286.1 617.57,286.55 620.4,286.8 C623.23,287.05 626.08,287.1 628.9,287.2 C631.72,287.3 634.48,287.33 637.3,287.4 C640.12,287.47 642.97,287.53 645.8,287.6 C648.63,287.67 652.88,287.77 654.3,287.8" fill="none" stroke="#000" stroke-width="2.0" stroke-linejoin="round" stroke-dasharray="4 2"/>
<path d="M510.2,259.2 C511.03,259.12 513.83,258.65 515.2,258.7 C516.57,258.75 517.03,258.87 518.4,259.5 C519.77,260.13 521.75,261.58 523.4,262.5 C525.05,263.42 526.38,264.05 528.3,265 C530.22,265.95 532.95,267.17 534.9,268.2 C536.85,269.23 538.6,270.43 540,271.2 C541.4,271.97 542.48,272.28 543.3,272.8 C544.12,273.32 544.08,273.82 544.9,274.3 C545.72,274.78 546.95,275.22 548.2,275.7 C549.45,276.18 551.02,276.58 552.4,277.2 C553.78,277.82 555.27,278.55 556.5,279.4 C557.73,280.25 558.82,281.3 559.8,282.3 C560.78,283.3 561.38,283.97 562.4,285.4 C563.42,286.83 564.73,289 565.9,290.9 C567.07,292.8 568.23,294.75 569.4,296.8 C570.57,298.85 571.72,301.25 572.9,303.2 C574.08,305.15 575.32,306.73 576.5,308.5 C577.68,310.27 578.83,312.23 580,313.8 C581.17,315.37 582.13,316.43 583.5,317.9 C584.87,319.37 586.63,321.02 588.2,322.6 C589.77,324.18 591.33,325.92 592.9,327.4 C594.47,328.88 596.42,330.5 597.6,331.5 C598.78,332.5 598.93,332.45 600,333.4 C601.07,334.35 602.48,335.75 604,337.2 C605.52,338.65 607.07,340.27 609.1,342.1 C611.13,343.93 613.85,346.3 616.2,348.2 C618.55,350.1 621.15,352.17 623.2,353.5 C625.25,354.83 626.43,355.47 628.5,356.2 C630.57,356.93 632.95,357.17 635.6,357.9 C638.25,358.63 641.17,359.77 644.4,360.6 C647.63,361.43 653.23,362.52 655,362.9" fill="none" stroke="#000" stroke-width="2.0" stroke-linejoin="round"/>
<path d="M512.7,264.4 C512.83,265.78 513.08,270.22 513.5,272.7 C513.92,275.18 514.38,277.52 515.2,279.3 C516.02,281.08 517.32,282.32 518.4,283.4 C519.48,284.48 520.6,285.12 521.7,285.8 C522.8,286.48 524.03,287.9 525,287.5 C525.97,287.1 526.67,284.77 527.5,283.4 C528.33,282.03 529.05,280.4 530,279.3 C530.95,278.2 531.97,276.95 533.2,276.8 C534.43,276.65 536.15,277.3 537.4,278.4 C538.65,279.5 539.75,281.62 540.7,283.4 C541.65,285.18 542.42,286.5 543.1,289.1 C543.78,291.7 544.3,295.98 544.8,299 C545.3,302.02 545.62,303.5 546.1,307.2 C546.58,310.9 547.18,315.33 547.7,321.2 C548.22,327.07 548.7,335.33 549.2,342.4 C549.7,349.47 550.25,357.6 550.7,363.6 C551.15,369.6 551.47,375.23 551.9,378.4 C552.33,381.57 552.8,382.6 553.3,382.6 C553.8,382.6 554.42,381.48 554.9,378.4 C555.38,375.32 555.7,369.42 556.2,364.1 C556.7,358.78 557.32,351.5 557.9,346.5 C558.48,341.5 559.1,337.63 559.7,334.1 C560.3,330.57 560.77,325.88 561.5,325.3 C562.23,324.72 563.08,329.57 564.1,330.6 C565.12,331.63 566.42,331.45 567.6,331.5 C568.78,331.55 570.02,330.75 571.2,330.9 C572.38,331.05 573.67,331.28 574.7,332.4 C575.73,333.52 576.67,337.32 577.4,337.6 C578.13,337.88 578.52,335.57 579.1,334.1 C579.68,332.63 580.17,330.72 580.9,328.8 C581.63,326.88 582.6,325.13 583.5,322.6 C584.4,320.07 585.3,315.45 586.3,313.6 C587.3,311.75 588.78,312.73 589.5,311.5 C590.22,310.27 590.07,308.5 590.6,306.2 C591.13,303.9 591.65,299.82 592.7,297.7 C593.75,295.58 595.45,294.27 596.9,293.5 C598.35,292.73 599.6,293.87 601.4,293.1 C603.2,292.33 605.58,289.95 607.7,288.9 C609.82,287.85 611.98,287.52 614.1,286.8 C616.22,286.08 618.28,285.13 620.4,284.6 C622.52,284.07 624.68,283.83 626.8,283.6 C628.92,283.37 631.17,283.38 633.1,283.2 C635.03,283.02 636.82,283.15 638.4,282.5 C639.98,281.85 641.18,280.07 642.6,279.3 C644.02,278.53 645.48,278.42 646.9,277.9 C648.32,277.38 650.05,276.57 651.1,276.2 C652.15,275.83 652.5,275.7 653.2,275.7 C653.9,275.7 654.95,276.12 655.3,276.2" fill="none" stroke="#1b3cff" stroke-width="2.0" stroke-linejoin="round" stroke-dasharray="4 2"/>
<path d="M511,282.5 C511.08,280.87 511.63,274.48 511.5,272.7 C511.37,270.92 510.13,271.12 510.2,271.8 C510.27,272.48 511.22,274.47 511.9,276.8 C512.58,279.13 513.35,283.07 514.3,285.8 C515.25,288.53 516.5,291 517.6,293.2 C518.7,295.4 519.8,297.62 520.9,299 C522,300.38 522.97,301.28 524.2,301.5 C525.43,301.72 526.93,301 528.3,300.3 C529.67,299.6 531.03,298.02 532.4,297.3 C533.77,296.58 534.98,296.6 536.5,296 C538.02,295.4 540.27,293.48 541.5,293.7 C542.73,293.92 543.22,296.42 543.9,297.3 C544.58,298.18 545.05,299.27 545.6,299 C546.15,298.73 546.6,296.8 547.2,295.7 C547.8,294.6 548.33,292.6 549.2,292.4 C550.07,292.2 551.33,293.08 552.4,294.5 C553.47,295.92 554.53,298.07 555.6,300.9 C556.67,303.73 557.82,308.32 558.8,311.5 C559.78,314.68 560.62,316.82 561.5,320 C562.38,323.18 563.22,327.22 564.1,330.6 C564.98,333.98 565.92,337.95 566.8,340.3 C567.68,342.65 568.52,344.27 569.4,344.7 C570.28,345.13 571.07,344.37 572.1,342.9 C573.13,341.43 574.43,338.25 575.6,335.9 C576.77,333.55 577.93,331.02 579.1,328.8 C580.27,326.58 581.72,324.07 582.6,322.6 C583.48,321.13 583.6,321.5 584.4,320 C585.2,318.5 586.2,315.02 587.4,313.6 C588.6,312.18 590.18,312.38 591.6,311.5 C593.02,310.62 594.27,308.97 595.9,308.3 C597.53,307.63 599.62,307.57 601.4,307.5 C603.18,307.43 604.85,307.55 606.6,307.9 C608.35,308.25 610.13,309.67 611.9,309.6 C613.67,309.53 615.43,308.67 617.2,307.5 C618.97,306.33 620.9,304.65 622.5,302.6 C624.1,300.55 625.38,297.48 626.8,295.2 C628.22,292.92 629.6,290.2 631,288.9 C632.4,287.6 633.62,287.58 635.2,287.4 C636.78,287.22 638.9,288.08 640.5,287.8 C642.1,287.52 643.38,286.23 644.8,285.7 C646.22,285.17 647.42,284.78 649,284.6 C650.58,284.42 653.42,284.6 654.3,284.6" fill="none" stroke="#1b3cff" stroke-width="2.0" stroke-linejoin="round"/>
<line x1="517.7" y1="240.8" x2="542.2" y2="240.8" stroke="#1b3cff" stroke-width="2.0"/>
<text transform="translate(544.4 244.7)" font-family='"Liberation Sans", sans-serif' font-size="10.9" fill="#111" text-anchor="start" textLength="29" lengthAdjust="spacingAndGlyphs" xml:space="preserve">AGB5</text>
<line x1="584.7" y1="240.8" x2="609.6" y2="240.8" stroke="#1b3cff" stroke-width="2.0" stroke-dasharray="4 2.5"/>
<text transform="translate(611.8 244.7)" font-family='"Liberation Sans", sans-serif' font-size="10.9" fill="#111" text-anchor="start" textLength="18.8" lengthAdjust="spacingAndGlyphs" xml:space="preserve">BL5</text>
<text transform="translate(527.7 285) rotate(-90)" font-family='"Liberation Sans", sans-serif' font-size="8.9" fill="#111" text-anchor="middle" textLength="18.6" lengthAdjust="spacingAndGlyphs" xml:space="preserve">80.4</text>
<text transform="translate(525.3 313.75) rotate(-90)" font-family='"Liberation Sans", sans-serif' font-size="8.9" fill="#111" text-anchor="middle" textLength="17.5" lengthAdjust="spacingAndGlyphs" xml:space="preserve">78.2</text>
<text transform="translate(549.2 378.4) rotate(-90)" font-family='"Liberation Sans", sans-serif' font-size="8.9" fill="#111" text-anchor="middle" textLength="21.8" lengthAdjust="spacingAndGlyphs" xml:space="preserve">198.4</text>
<text transform="translate(574 357.5) rotate(-90)" font-family='"Liberation Sans", sans-serif' font-size="8.9" fill="#111" text-anchor="middle" textLength="22.6" lengthAdjust="spacingAndGlyphs" xml:space="preserve">261.6</text>
<text transform="translate(582.3 356.8) rotate(-90)" font-family='"Liberation Sans", sans-serif' font-size="8.9" fill="#111" text-anchor="middle" textLength="23" lengthAdjust="spacingAndGlyphs" xml:space="preserve">294.4</text>
<text transform="translate(615.1 324.9) rotate(-90)" font-family='"Liberation Sans", sans-serif' font-size="8.9" fill="#111" text-anchor="middle" textLength="21.8" lengthAdjust="spacingAndGlyphs" xml:space="preserve">461.2</text>
<text transform="translate(639.9 305.85) rotate(-90)" font-family='"Liberation Sans", sans-serif' font-size="8.9" fill="#111" text-anchor="middle" textLength="23.9" lengthAdjust="spacingAndGlyphs" xml:space="preserve">538.5</text>
</svg></body></html>
